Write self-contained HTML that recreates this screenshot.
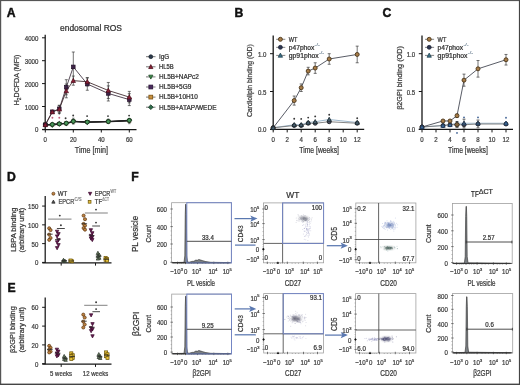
<!DOCTYPE html><html><head><meta charset="utf-8"><style>html,body{margin:0;padding:0;background:#fff;overflow:hidden}svg{display:block;will-change:transform;font-family:"Liberation Sans",sans-serif}</style></head><body>
<svg width="520" height="385" viewBox="0 0 520 385">
<defs><filter id="bl" x="-50%" y="-50%" width="200%" height="200%"><feGaussianBlur stdDeviation="1.1"/></filter><filter id="bl2" x="-50%" y="-50%" width="200%" height="200%"><feGaussianBlur stdDeviation="2.2"/></filter></defs>
<rect width="520" height="385" fill="#fff"/>
<text x="6.7" y="16.6" font-size="12.2" fill="#111" font-weight="bold" stroke="#111" stroke-width="0.45">A</text>
<text x="234.6" y="16.8" font-size="12.2" fill="#111" font-weight="bold" stroke="#111" stroke-width="0.45">B</text>
<text x="382.4" y="16.8" font-size="12.2" fill="#111" font-weight="bold" stroke="#111" stroke-width="0.45">C</text>
<text x="6.9" y="180.6" font-size="12.2" fill="#111" font-weight="bold" stroke="#111" stroke-width="0.45">D</text>
<text x="7.4" y="291.8" font-size="12.2" fill="#111" font-weight="bold" stroke="#111" stroke-width="0.45">E</text>
<text x="131.2" y="180.6" font-size="12.2" fill="#111" font-weight="bold" stroke="#111" stroke-width="0.45">F</text>
<text x="60" y="30.8" font-size="8.3" fill="#333" stroke="#333" stroke-width="0.24" textLength="62" lengthAdjust="spacingAndGlyphs">endosomal ROS</text>
<line x1="45.2" y1="34.8" x2="45.2" y2="130" stroke="#161616" stroke-width="1.25"/>
<line x1="42" y1="129.4" x2="45.2" y2="129.4" stroke="#161616" stroke-width="1"/>
<text x="38.4" y="132.4" font-size="7.3" fill="#3c3c3c" stroke="#3c3c3c" stroke-width="0.24" text-anchor="end" textLength="3.4" lengthAdjust="spacingAndGlyphs">0</text>
<line x1="42" y1="106.5" x2="45.2" y2="106.5" stroke="#161616" stroke-width="1"/>
<text x="38.4" y="109.5" font-size="7.3" fill="#3c3c3c" stroke="#3c3c3c" stroke-width="0.24" text-anchor="end" textLength="13.6" lengthAdjust="spacingAndGlyphs">1000</text>
<line x1="42" y1="83.6" x2="45.2" y2="83.6" stroke="#161616" stroke-width="1"/>
<text x="38.4" y="86.6" font-size="7.3" fill="#3c3c3c" stroke="#3c3c3c" stroke-width="0.24" text-anchor="end" textLength="13.6" lengthAdjust="spacingAndGlyphs">2000</text>
<line x1="42" y1="60.7" x2="45.2" y2="60.7" stroke="#161616" stroke-width="1"/>
<text x="38.4" y="63.7" font-size="7.3" fill="#3c3c3c" stroke="#3c3c3c" stroke-width="0.24" text-anchor="end" textLength="13.6" lengthAdjust="spacingAndGlyphs">3000</text>
<line x1="42" y1="37.8" x2="45.2" y2="37.8" stroke="#161616" stroke-width="1"/>
<text x="38.4" y="40.8" font-size="7.3" fill="#3c3c3c" stroke="#3c3c3c" stroke-width="0.24" text-anchor="end" textLength="13.6" lengthAdjust="spacingAndGlyphs">4000</text>
<line x1="42.3" y1="129.6" x2="136.5" y2="129.6" stroke="#161616" stroke-width="1.25"/>
<line x1="45.3" y1="129.6" x2="45.3" y2="132.5" stroke="#161616" stroke-width="1"/>
<text x="45.3" y="142" font-size="7.3" fill="#3c3c3c" stroke="#3c3c3c" stroke-width="0.24" text-anchor="middle" textLength="3.4" lengthAdjust="spacingAndGlyphs">0</text>
<line x1="73.3" y1="129.6" x2="73.3" y2="132.5" stroke="#161616" stroke-width="1"/>
<text x="73.3" y="142" font-size="7.3" fill="#3c3c3c" stroke="#3c3c3c" stroke-width="0.24" text-anchor="middle" textLength="6.8" lengthAdjust="spacingAndGlyphs">20</text>
<line x1="101.3" y1="129.6" x2="101.3" y2="132.5" stroke="#161616" stroke-width="1"/>
<text x="101.3" y="142" font-size="7.3" fill="#3c3c3c" stroke="#3c3c3c" stroke-width="0.24" text-anchor="middle" textLength="6.8" lengthAdjust="spacingAndGlyphs">40</text>
<line x1="129.3" y1="129.6" x2="129.3" y2="132.5" stroke="#161616" stroke-width="1"/>
<text x="129.3" y="142" font-size="7.3" fill="#3c3c3c" stroke="#3c3c3c" stroke-width="0.24" text-anchor="middle" textLength="6.8" lengthAdjust="spacingAndGlyphs">60</text>
<text x="74.8" y="153.2" font-size="8.3" fill="#3a3a3a" stroke="#3a3a3a" stroke-width="0.24" textLength="33.3" lengthAdjust="spacingAndGlyphs">Time [min]</text>
<text x="19" y="105.3" font-size="7.2" fill="#3a3a3a" stroke="#3a3a3a" stroke-width="0.24" textLength="50.6" lengthAdjust="spacingAndGlyphs" transform="rotate(-90 19 105.3)">H<tspan font-size="5" dy="1.6">2</tspan><tspan dy="-1.6">DCFDA (MFI)</tspan></text>
<polyline points="45.3,124.82 52.3,125.28 59.3,124.13 66.3,123.68 73.3,121.84 87.3,122.3 108.3,121.84 129.3,120.93" fill="none" stroke="#222" stroke-width="1" stroke-linejoin="round"/>
<polyline points="45.3,124.82 52.3,124.59 59.3,123.9 66.3,123.45 73.3,121.39 87.3,122.07 108.3,121.61 129.3,120.7" fill="none" stroke="#222" stroke-width="1" stroke-linejoin="round"/>
<polyline points="45.3,124.82 52.3,124.36 59.3,123.68 66.3,123.22 73.3,121.16 87.3,122.07 108.3,121.39 129.3,120.24" fill="none" stroke="#222" stroke-width="1" stroke-linejoin="round"/>
<polyline points="45.3,124.82 52.3,124.48 59.3,123.9 66.3,123.22 73.3,121.39 87.3,122.07 108.3,121.61 129.3,120.47" fill="none" stroke="#222" stroke-width="1" stroke-linejoin="round"/>
<line x1="73.3" y1="118.18" x2="73.3" y2="124.13" stroke="#444" stroke-width="0.6"/>
<line x1="72" y1="118.18" x2="74.6" y2="118.18" stroke="#444" stroke-width="0.6"/>
<line x1="72" y1="124.13" x2="74.6" y2="124.13" stroke="#444" stroke-width="0.6"/>
<line x1="108.3" y1="119.09" x2="108.3" y2="123.22" stroke="#444" stroke-width="0.6"/>
<line x1="107" y1="119.09" x2="109.6" y2="119.09" stroke="#444" stroke-width="0.6"/>
<line x1="107" y1="123.22" x2="109.6" y2="123.22" stroke="#444" stroke-width="0.6"/>
<line x1="129.3" y1="118.64" x2="129.3" y2="123.68" stroke="#444" stroke-width="0.6"/>
<line x1="128" y1="118.64" x2="130.6" y2="118.64" stroke="#444" stroke-width="0.6"/>
<line x1="128" y1="123.68" x2="130.6" y2="123.68" stroke="#444" stroke-width="0.6"/>
<path d="M45.3 127.01L47.39 123.07L43.21 123.07Z" fill="#3a8a46" stroke="#1f4a27" stroke-width="0.8"/>
<path d="M52.3 127.46L54.39 123.53L50.21 123.53Z" fill="#3a8a46" stroke="#1f4a27" stroke-width="0.8"/>
<path d="M59.3 126.32L61.39 122.39L57.21 122.39Z" fill="#3a8a46" stroke="#1f4a27" stroke-width="0.8"/>
<path d="M66.3 125.86L68.39 121.93L64.21 121.93Z" fill="#3a8a46" stroke="#1f4a27" stroke-width="0.8"/>
<path d="M73.3 124.03L75.39 120.09L71.21 120.09Z" fill="#3a8a46" stroke="#1f4a27" stroke-width="0.8"/>
<path d="M87.3 124.49L89.39 120.55L85.21 120.55Z" fill="#3a8a46" stroke="#1f4a27" stroke-width="0.8"/>
<path d="M108.3 124.03L110.39 120.09L106.21 120.09Z" fill="#3a8a46" stroke="#1f4a27" stroke-width="0.8"/>
<path d="M129.3 123.11L131.39 119.18L127.21 119.18Z" fill="#3a8a46" stroke="#1f4a27" stroke-width="0.8"/>
<rect x="43.8" y="123.32" width="3" height="3" fill="#8a7a40" stroke="#3a3010" stroke-width="0.8"/>
<rect x="50.8" y="123.09" width="3" height="3" fill="#8a7a40" stroke="#3a3010" stroke-width="0.8"/>
<rect x="57.8" y="122.4" width="3" height="3" fill="#8a7a40" stroke="#3a3010" stroke-width="0.8"/>
<rect x="64.8" y="121.95" width="3" height="3" fill="#8a7a40" stroke="#3a3010" stroke-width="0.8"/>
<rect x="71.8" y="119.89" width="3" height="3" fill="#8a7a40" stroke="#3a3010" stroke-width="0.8"/>
<rect x="85.8" y="120.57" width="3" height="3" fill="#8a7a40" stroke="#3a3010" stroke-width="0.8"/>
<rect x="106.8" y="120.11" width="3" height="3" fill="#8a7a40" stroke="#3a3010" stroke-width="0.8"/>
<rect x="127.8" y="119.2" width="3" height="3" fill="#8a7a40" stroke="#3a3010" stroke-width="0.8"/>
<path d="M45.3 122.45L47.67 124.82L45.3 127.2L42.92 124.82Z" fill="#2e6b4a" stroke="#163a26" stroke-width="0.8"/>
<path d="M52.3 121.99L54.67 124.36L52.3 126.74L49.92 124.36Z" fill="#2e6b4a" stroke="#163a26" stroke-width="0.8"/>
<path d="M59.3 121.3L61.67 123.68L59.3 126.05L56.92 123.68Z" fill="#2e6b4a" stroke="#163a26" stroke-width="0.8"/>
<path d="M66.3 120.84L68.67 123.22L66.3 125.59L63.92 123.22Z" fill="#2e6b4a" stroke="#163a26" stroke-width="0.8"/>
<path d="M73.3 118.78L75.67 121.16L73.3 123.53L70.92 121.16Z" fill="#2e6b4a" stroke="#163a26" stroke-width="0.8"/>
<path d="M87.3 119.7L89.67 122.07L87.3 124.45L84.92 122.07Z" fill="#2e6b4a" stroke="#163a26" stroke-width="0.8"/>
<path d="M108.3 119.01L110.67 121.39L108.3 123.76L105.92 121.39Z" fill="#2e6b4a" stroke="#163a26" stroke-width="0.8"/>
<path d="M129.3 117.87L131.68 120.24L129.3 122.62L126.93 120.24Z" fill="#2e6b4a" stroke="#163a26" stroke-width="0.8"/>
<circle cx="45.3" cy="124.82" r="1.9" fill="#4a9a5a" stroke="#16301c" stroke-width="0.8"/>
<circle cx="52.3" cy="124.48" r="1.9" fill="#4a9a5a" stroke="#16301c" stroke-width="0.8"/>
<circle cx="59.3" cy="123.9" r="1.9" fill="#4a9a5a" stroke="#16301c" stroke-width="0.8"/>
<circle cx="66.3" cy="123.22" r="1.9" fill="#4a9a5a" stroke="#16301c" stroke-width="0.8"/>
<circle cx="73.3" cy="121.39" r="1.9" fill="#4a9a5a" stroke="#16301c" stroke-width="0.8"/>
<circle cx="87.3" cy="122.07" r="1.9" fill="#4a9a5a" stroke="#16301c" stroke-width="0.8"/>
<circle cx="108.3" cy="121.61" r="1.9" fill="#4a9a5a" stroke="#16301c" stroke-width="0.8"/>
<circle cx="129.3" cy="120.47" r="1.9" fill="#4a9a5a" stroke="#16301c" stroke-width="0.8"/>
<polyline points="45.3,124.82 52.3,111.77 59.3,108.79 66.3,87.26 73.3,66.88 87.3,84.06 108.3,93.45 129.3,99.63" fill="none" stroke="#3a2a3a" stroke-width="0.85" stroke-linejoin="round"/>
<polyline points="45.3,124.82 52.3,112 59.3,109.25 66.3,90.93 73.3,80.62 87.3,81.77 108.3,90.47 129.3,97.11" fill="none" stroke="#3a2226" stroke-width="0.85" stroke-linejoin="round"/>
<line x1="52.3" y1="110.39" x2="52.3" y2="113.14" stroke="#3a3a3a" stroke-width="0.7"/>
<line x1="50.8" y1="110.39" x2="53.8" y2="110.39" stroke="#3a3a3a" stroke-width="0.7"/>
<line x1="50.8" y1="113.14" x2="53.8" y2="113.14" stroke="#3a3a3a" stroke-width="0.7"/>
<line x1="59.3" y1="105.36" x2="59.3" y2="112.23" stroke="#3a3a3a" stroke-width="0.7"/>
<line x1="57.8" y1="105.36" x2="60.8" y2="105.36" stroke="#3a3a3a" stroke-width="0.7"/>
<line x1="57.8" y1="112.23" x2="60.8" y2="112.23" stroke="#3a3a3a" stroke-width="0.7"/>
<line x1="66.3" y1="79.71" x2="66.3" y2="94.82" stroke="#3a3a3a" stroke-width="0.7"/>
<line x1="64.8" y1="79.71" x2="67.8" y2="79.71" stroke="#3a3a3a" stroke-width="0.7"/>
<line x1="64.8" y1="94.82" x2="67.8" y2="94.82" stroke="#3a3a3a" stroke-width="0.7"/>
<line x1="73.3" y1="52" x2="73.3" y2="81.77" stroke="#3a3a3a" stroke-width="0.7"/>
<line x1="71.8" y1="52" x2="74.8" y2="52" stroke="#3a3a3a" stroke-width="0.7"/>
<line x1="71.8" y1="81.77" x2="74.8" y2="81.77" stroke="#3a3a3a" stroke-width="0.7"/>
<line x1="87.3" y1="77.88" x2="87.3" y2="90.24" stroke="#3a3a3a" stroke-width="0.7"/>
<line x1="85.8" y1="77.88" x2="88.8" y2="77.88" stroke="#3a3a3a" stroke-width="0.7"/>
<line x1="85.8" y1="90.24" x2="88.8" y2="90.24" stroke="#3a3a3a" stroke-width="0.7"/>
<line x1="108.3" y1="85.89" x2="108.3" y2="101" stroke="#3a3a3a" stroke-width="0.7"/>
<line x1="106.8" y1="85.89" x2="109.8" y2="85.89" stroke="#3a3a3a" stroke-width="0.7"/>
<line x1="106.8" y1="101" x2="109.8" y2="101" stroke="#3a3a3a" stroke-width="0.7"/>
<line x1="129.3" y1="93.68" x2="129.3" y2="105.58" stroke="#3a3a3a" stroke-width="0.7"/>
<line x1="127.8" y1="93.68" x2="130.8" y2="93.68" stroke="#3a3a3a" stroke-width="0.7"/>
<line x1="127.8" y1="105.58" x2="130.8" y2="105.58" stroke="#3a3a3a" stroke-width="0.7"/>
<line x1="52.3" y1="110.62" x2="52.3" y2="113.37" stroke="#3a3a3a" stroke-width="0.7"/>
<line x1="50.8" y1="110.62" x2="53.8" y2="110.62" stroke="#3a3a3a" stroke-width="0.7"/>
<line x1="50.8" y1="113.37" x2="53.8" y2="113.37" stroke="#3a3a3a" stroke-width="0.7"/>
<line x1="59.3" y1="105.36" x2="59.3" y2="113.14" stroke="#3a3a3a" stroke-width="0.7"/>
<line x1="57.8" y1="105.36" x2="60.8" y2="105.36" stroke="#3a3a3a" stroke-width="0.7"/>
<line x1="57.8" y1="113.14" x2="60.8" y2="113.14" stroke="#3a3a3a" stroke-width="0.7"/>
<line x1="66.3" y1="84.06" x2="66.3" y2="97.8" stroke="#3a3a3a" stroke-width="0.7"/>
<line x1="64.8" y1="84.06" x2="67.8" y2="84.06" stroke="#3a3a3a" stroke-width="0.7"/>
<line x1="64.8" y1="97.8" x2="67.8" y2="97.8" stroke="#3a3a3a" stroke-width="0.7"/>
<line x1="73.3" y1="76.04" x2="73.3" y2="85.2" stroke="#3a3a3a" stroke-width="0.7"/>
<line x1="71.8" y1="76.04" x2="74.8" y2="76.04" stroke="#3a3a3a" stroke-width="0.7"/>
<line x1="71.8" y1="85.2" x2="74.8" y2="85.2" stroke="#3a3a3a" stroke-width="0.7"/>
<line x1="87.3" y1="77.65" x2="87.3" y2="85.89" stroke="#3a3a3a" stroke-width="0.7"/>
<line x1="85.8" y1="77.65" x2="88.8" y2="77.65" stroke="#3a3a3a" stroke-width="0.7"/>
<line x1="85.8" y1="85.89" x2="88.8" y2="85.89" stroke="#3a3a3a" stroke-width="0.7"/>
<line x1="108.3" y1="82.46" x2="108.3" y2="98.49" stroke="#3a3a3a" stroke-width="0.7"/>
<line x1="106.8" y1="82.46" x2="109.8" y2="82.46" stroke="#3a3a3a" stroke-width="0.7"/>
<line x1="106.8" y1="98.49" x2="109.8" y2="98.49" stroke="#3a3a3a" stroke-width="0.7"/>
<line x1="129.3" y1="91.39" x2="129.3" y2="102.84" stroke="#3a3a3a" stroke-width="0.7"/>
<line x1="127.8" y1="91.39" x2="130.8" y2="91.39" stroke="#3a3a3a" stroke-width="0.7"/>
<line x1="127.8" y1="102.84" x2="130.8" y2="102.84" stroke="#3a3a3a" stroke-width="0.7"/>
<rect x="43.5" y="123.02" width="3.6" height="3.6" fill="#3d2448" stroke="#241028" stroke-width="0.7"/>
<rect x="50.5" y="109.97" width="3.6" height="3.6" fill="#3d2448" stroke="#241028" stroke-width="0.7"/>
<rect x="57.5" y="106.99" width="3.6" height="3.6" fill="#3d2448" stroke="#241028" stroke-width="0.7"/>
<rect x="64.5" y="85.46" width="3.6" height="3.6" fill="#3d2448" stroke="#241028" stroke-width="0.7"/>
<rect x="71.5" y="65.08" width="3.6" height="3.6" fill="#3d2448" stroke="#241028" stroke-width="0.7"/>
<rect x="85.5" y="82.26" width="3.6" height="3.6" fill="#3d2448" stroke="#241028" stroke-width="0.7"/>
<rect x="106.5" y="91.65" width="3.6" height="3.6" fill="#3d2448" stroke="#241028" stroke-width="0.7"/>
<rect x="127.5" y="97.83" width="3.6" height="3.6" fill="#3d2448" stroke="#241028" stroke-width="0.7"/>
<path d="M45.3 122.52L47.5 126.66L43.1 126.66Z" fill="#8a1f35" stroke="#4a0f1c" stroke-width="0.7"/>
<path d="M52.3 109.7L54.5 113.84L50.1 113.84Z" fill="#8a1f35" stroke="#4a0f1c" stroke-width="0.7"/>
<path d="M59.3 106.95L61.5 111.09L57.1 111.09Z" fill="#8a1f35" stroke="#4a0f1c" stroke-width="0.7"/>
<path d="M66.3 88.63L68.5 92.77L64.1 92.77Z" fill="#8a1f35" stroke="#4a0f1c" stroke-width="0.7"/>
<path d="M73.3 78.32L75.5 82.46L71.1 82.46Z" fill="#8a1f35" stroke="#4a0f1c" stroke-width="0.7"/>
<path d="M87.3 79.47L89.5 83.61L85.1 83.61Z" fill="#8a1f35" stroke="#4a0f1c" stroke-width="0.7"/>
<path d="M108.3 88.17L110.5 92.31L106.1 92.31Z" fill="#8a1f35" stroke="#4a0f1c" stroke-width="0.7"/>
<path d="M129.3 94.81L131.5 98.95L127.1 98.95Z" fill="#8a1f35" stroke="#4a0f1c" stroke-width="0.7"/>
<circle cx="52.4" cy="117.8" r="0.95" fill="#c06080"/>
<circle cx="59.3" cy="113.6" r="0.95" fill="#383838"/>
<circle cx="59.3" cy="117.8" r="0.95" fill="#c06080"/>
<circle cx="65.6" cy="118.2" r="0.95" fill="#383838"/>
<circle cx="73.2" cy="115.5" r="0.95" fill="#383838"/>
<circle cx="87.1" cy="116.1" r="0.95" fill="#383838"/>
<circle cx="108" cy="116.1" r="0.95" fill="#383838"/>
<circle cx="129.1" cy="115.6" r="0.95" fill="#383838"/>
<line x1="146" y1="56.7" x2="155.5" y2="56.7" stroke="#666" stroke-width="0.9"/>
<circle cx="150.8" cy="56.7" r="1.9" fill="#2c3a4c" stroke="#1a2430" stroke-width="0.8"/>
<text x="159" y="59" font-size="6.4" fill="#333" stroke="#333" stroke-width="0.24" textLength="10.1" lengthAdjust="spacingAndGlyphs">IgG</text>
<line x1="146" y1="66.8" x2="155.5" y2="66.8" stroke="#666" stroke-width="0.9"/>
<path d="M150.8 64.61L152.89 68.55L148.71 68.55Z" fill="#8a1f35" stroke="#4a0f1c" stroke-width="0.8"/>
<text x="159" y="69.1" font-size="6.4" fill="#333" stroke="#333" stroke-width="0.24" textLength="14.7" lengthAdjust="spacingAndGlyphs">HL5B</text>
<line x1="146" y1="76.9" x2="155.5" y2="76.9" stroke="#666" stroke-width="0.9"/>
<path d="M150.8 79.09L152.89 75.15L148.71 75.15Z" fill="#3a8a46" stroke="#1f4a27" stroke-width="0.8"/>
<text x="159" y="79.2" font-size="6.4" fill="#333" stroke="#333" stroke-width="0.24" textLength="39.8" lengthAdjust="spacingAndGlyphs">HL5B+NAPc2</text>
<line x1="146" y1="87" x2="155.5" y2="87" stroke="#666" stroke-width="0.9"/>
<rect x="148.9" y="85.1" width="3.8" height="3.8" fill="#4a2a5e" stroke="#2a1438" stroke-width="0.8"/>
<text x="159" y="89.3" font-size="6.4" fill="#333" stroke="#333" stroke-width="0.24" textLength="32.3" lengthAdjust="spacingAndGlyphs">HL5B+5G9</text>
<line x1="146" y1="97.1" x2="155.5" y2="97.1" stroke="#666" stroke-width="0.9"/>
<rect x="148.9" y="95.2" width="3.8" height="3.8" fill="#c89040" stroke="#7a5010" stroke-width="0.8"/>
<text x="159" y="99.4" font-size="6.4" fill="#333" stroke="#333" stroke-width="0.24" textLength="38.8" lengthAdjust="spacingAndGlyphs">HL5B+10H10</text>
<line x1="146" y1="107.2" x2="155.5" y2="107.2" stroke="#666" stroke-width="0.9"/>
<path d="M150.8 104.83L153.18 107.2L150.8 109.58L148.43 107.2Z" fill="#2e6b4a" stroke="#163a26" stroke-width="0.8"/>
<text x="159" y="109.5" font-size="6.4" fill="#333" stroke="#333" stroke-width="0.24" textLength="57.5" lengthAdjust="spacingAndGlyphs">HL5B+ATAP/WEDE</text>
<line x1="273.2" y1="35.5" x2="273.2" y2="130" stroke="#161616" stroke-width="1.3"/>
<line x1="270" y1="129.3" x2="273.2" y2="129.3" stroke="#161616" stroke-width="1"/>
<text x="266.4" y="132.3" font-size="7.3" fill="#3c3c3c" stroke="#3c3c3c" stroke-width="0.24" text-anchor="end" textLength="8.5" lengthAdjust="spacingAndGlyphs">0.0</text>
<line x1="270" y1="91.5" x2="273.2" y2="91.5" stroke="#161616" stroke-width="1"/>
<text x="266.4" y="94.5" font-size="7.3" fill="#3c3c3c" stroke="#3c3c3c" stroke-width="0.24" text-anchor="end" textLength="8.5" lengthAdjust="spacingAndGlyphs">0.5</text>
<line x1="270" y1="53.7" x2="273.2" y2="53.7" stroke="#161616" stroke-width="1"/>
<text x="266.4" y="56.7" font-size="7.3" fill="#3c3c3c" stroke="#3c3c3c" stroke-width="0.24" text-anchor="end" textLength="8.5" lengthAdjust="spacingAndGlyphs">1.0</text>
<line x1="270" y1="129.4" x2="364.2" y2="129.4" stroke="#161616" stroke-width="1.3"/>
<line x1="273.2" y1="129.4" x2="273.2" y2="132.4" stroke="#161616" stroke-width="1"/>
<text x="273.2" y="141.7" font-size="7.3" fill="#3c3c3c" stroke="#3c3c3c" stroke-width="0.24" text-anchor="middle" textLength="3.4" lengthAdjust="spacingAndGlyphs">0</text>
<line x1="287.2" y1="129.4" x2="287.2" y2="132.4" stroke="#161616" stroke-width="1"/>
<text x="287.2" y="141.7" font-size="7.3" fill="#3c3c3c" stroke="#3c3c3c" stroke-width="0.24" text-anchor="middle" textLength="3.4" lengthAdjust="spacingAndGlyphs">2</text>
<line x1="301.2" y1="129.4" x2="301.2" y2="132.4" stroke="#161616" stroke-width="1"/>
<text x="301.2" y="141.7" font-size="7.3" fill="#3c3c3c" stroke="#3c3c3c" stroke-width="0.24" text-anchor="middle" textLength="3.4" lengthAdjust="spacingAndGlyphs">4</text>
<line x1="315.2" y1="129.4" x2="315.2" y2="132.4" stroke="#161616" stroke-width="1"/>
<text x="315.2" y="141.7" font-size="7.3" fill="#3c3c3c" stroke="#3c3c3c" stroke-width="0.24" text-anchor="middle" textLength="3.4" lengthAdjust="spacingAndGlyphs">6</text>
<line x1="329.2" y1="129.4" x2="329.2" y2="132.4" stroke="#161616" stroke-width="1"/>
<text x="329.2" y="141.7" font-size="7.3" fill="#3c3c3c" stroke="#3c3c3c" stroke-width="0.24" text-anchor="middle" textLength="3.4" lengthAdjust="spacingAndGlyphs">8</text>
<line x1="343.2" y1="129.4" x2="343.2" y2="132.4" stroke="#161616" stroke-width="1"/>
<text x="343.2" y="141.7" font-size="7.3" fill="#3c3c3c" stroke="#3c3c3c" stroke-width="0.24" text-anchor="middle" textLength="6.8" lengthAdjust="spacingAndGlyphs">10</text>
<line x1="357.2" y1="129.4" x2="357.2" y2="132.4" stroke="#161616" stroke-width="1"/>
<text x="357.2" y="141.7" font-size="7.3" fill="#3c3c3c" stroke="#3c3c3c" stroke-width="0.24" text-anchor="middle" textLength="6.8" lengthAdjust="spacingAndGlyphs">12</text>
<text x="299.3" y="153" font-size="8.3" fill="#3a3a3a" stroke="#3a3a3a" stroke-width="0.24" textLength="39.7" lengthAdjust="spacingAndGlyphs">Time [weeks]</text>
<text x="252.2" y="117.1" font-size="7.2" fill="#3a3a3a" stroke="#3a3a3a" stroke-width="0.24" textLength="72.9" lengthAdjust="spacingAndGlyphs" transform="rotate(-90 252.2 117.1)">Cardiolipin binding (OD)</text>
<polyline points="273.2,127.79 294.2,124.76 301.2,124.76 308.2,122.5 315.2,121.74 329.2,119.47 357.2,122.5" fill="none" stroke="#9fb8cc" stroke-width="1.1" stroke-linejoin="round"/>
<polyline points="273.2,127.79 294.2,125.52 301.2,125.52 308.2,123.25 315.2,123.25 329.2,121.74 357.2,123.25" fill="none" stroke="#777" stroke-width="0.9" stroke-linejoin="round"/>
<circle cx="273.2" cy="127.79" r="2" fill="#a67c48" stroke="#4a3418" stroke-width="0.9"/>
<polyline points="273.2,127.79 294.2,100.57 301.2,87.72 308.2,71.09 315.2,68.06 329.2,58.99 357.2,54.46" fill="none" stroke="#3b3f4a" stroke-width="0.85" stroke-linejoin="round"/>
<circle cx="273.2" cy="127.79" r="2" fill="#4c5060" stroke="#1a1c24" stroke-width="0.85"/>
<circle cx="294.2" cy="125.52" r="2" fill="#4c5060" stroke="#1a1c24" stroke-width="0.85"/>
<circle cx="301.2" cy="125.52" r="2" fill="#4c5060" stroke="#1a1c24" stroke-width="0.85"/>
<circle cx="308.2" cy="123.25" r="2" fill="#4c5060" stroke="#1a1c24" stroke-width="0.85"/>
<circle cx="315.2" cy="123.25" r="2" fill="#4c5060" stroke="#1a1c24" stroke-width="0.85"/>
<circle cx="329.2" cy="121.74" r="2" fill="#4c5060" stroke="#1a1c24" stroke-width="0.85"/>
<circle cx="357.2" cy="123.25" r="2" fill="#4c5060" stroke="#1a1c24" stroke-width="0.85"/>
<path d="M273.2 125.55L275.34 129.58L271.06 129.58Z" fill="#4a6070" stroke="#1a2a30" stroke-width="0.8"/>
<path d="M294.2 122.52L296.34 126.56L292.06 126.56Z" fill="#4a6070" stroke="#1a2a30" stroke-width="0.8"/>
<path d="M301.2 122.52L303.34 126.56L299.06 126.56Z" fill="#4a6070" stroke="#1a2a30" stroke-width="0.8"/>
<path d="M308.2 120.25L310.34 124.29L306.06 124.29Z" fill="#4a6070" stroke="#1a2a30" stroke-width="0.8"/>
<path d="M315.2 119.5L317.34 123.53L313.06 123.53Z" fill="#4a6070" stroke="#1a2a30" stroke-width="0.8"/>
<path d="M329.2 117.23L331.34 121.27L327.06 121.27Z" fill="#4a6070" stroke="#1a2a30" stroke-width="0.8"/>
<path d="M357.2 120.25L359.34 124.29L355.06 124.29Z" fill="#4a6070" stroke="#1a2a30" stroke-width="0.8"/>
<line x1="294.2" y1="96.04" x2="294.2" y2="105.11" stroke="#3a3a3a" stroke-width="0.7"/>
<line x1="292.7" y1="96.04" x2="295.7" y2="96.04" stroke="#3a3a3a" stroke-width="0.7"/>
<line x1="292.7" y1="105.11" x2="295.7" y2="105.11" stroke="#3a3a3a" stroke-width="0.7"/>
<line x1="301.2" y1="83.94" x2="301.2" y2="91.5" stroke="#3a3a3a" stroke-width="0.7"/>
<line x1="299.7" y1="83.94" x2="302.7" y2="83.94" stroke="#3a3a3a" stroke-width="0.7"/>
<line x1="299.7" y1="91.5" x2="302.7" y2="91.5" stroke="#3a3a3a" stroke-width="0.7"/>
<line x1="308.2" y1="67.31" x2="308.2" y2="74.87" stroke="#3a3a3a" stroke-width="0.7"/>
<line x1="306.7" y1="67.31" x2="309.7" y2="67.31" stroke="#3a3a3a" stroke-width="0.7"/>
<line x1="306.7" y1="74.87" x2="309.7" y2="74.87" stroke="#3a3a3a" stroke-width="0.7"/>
<line x1="315.2" y1="62.77" x2="315.2" y2="73.36" stroke="#3a3a3a" stroke-width="0.7"/>
<line x1="313.7" y1="62.77" x2="316.7" y2="62.77" stroke="#3a3a3a" stroke-width="0.7"/>
<line x1="313.7" y1="73.36" x2="316.7" y2="73.36" stroke="#3a3a3a" stroke-width="0.7"/>
<line x1="329.2" y1="53.7" x2="329.2" y2="64.28" stroke="#3a3a3a" stroke-width="0.7"/>
<line x1="327.7" y1="53.7" x2="330.7" y2="53.7" stroke="#3a3a3a" stroke-width="0.7"/>
<line x1="327.7" y1="64.28" x2="330.7" y2="64.28" stroke="#3a3a3a" stroke-width="0.7"/>
<line x1="357.2" y1="46.14" x2="357.2" y2="62.77" stroke="#3a3a3a" stroke-width="0.7"/>
<line x1="355.7" y1="46.14" x2="358.7" y2="46.14" stroke="#3a3a3a" stroke-width="0.7"/>
<line x1="355.7" y1="62.77" x2="358.7" y2="62.77" stroke="#3a3a3a" stroke-width="0.7"/>
<circle cx="294.2" cy="100.57" r="2" fill="#a67c48" stroke="#4a3418" stroke-width="0.9"/>
<circle cx="301.2" cy="87.72" r="2" fill="#a67c48" stroke="#4a3418" stroke-width="0.9"/>
<circle cx="308.2" cy="71.09" r="2" fill="#a67c48" stroke="#4a3418" stroke-width="0.9"/>
<circle cx="315.2" cy="68.06" r="2" fill="#a67c48" stroke="#4a3418" stroke-width="0.9"/>
<circle cx="329.2" cy="58.99" r="2" fill="#a67c48" stroke="#4a3418" stroke-width="0.9"/>
<circle cx="357.2" cy="54.46" r="2" fill="#a67c48" stroke="#4a3418" stroke-width="0.9"/>
<circle cx="294.2" cy="118.7" r="0.95" fill="#383838"/>
<circle cx="301.2" cy="118.9" r="0.95" fill="#383838"/>
<circle cx="308.2" cy="117.6" r="0.95" fill="#383838"/>
<circle cx="315.2" cy="116.4" r="0.95" fill="#383838"/>
<circle cx="329.2" cy="114.8" r="0.95" fill="#383838"/>
<circle cx="357.2" cy="118.3" r="0.95" fill="#383838"/>
<line x1="276.2" y1="39.3" x2="285.3" y2="39.3" stroke="#777" stroke-width="0.9"/>
<circle cx="280.4" cy="39.3" r="2" fill="#a67c48" stroke="#4a3418" stroke-width="0.9"/>
<text x="288.8" y="42" font-size="6.4" fill="#333" stroke="#333" stroke-width="0.24" textLength="8.7" lengthAdjust="spacingAndGlyphs">WT</text>
<line x1="276.2" y1="47.35" x2="285.3" y2="47.35" stroke="#777" stroke-width="0.9"/>
<circle cx="280.4" cy="47.35" r="2" fill="#2c3550" stroke="#1a2030" stroke-width="0.7"/>
<text x="288.8" y="50.05" font-size="6.4" fill="#333" stroke="#333" stroke-width="0.24" textLength="25.5" lengthAdjust="spacingAndGlyphs">p47phox</text>
<text x="314.6" y="46.35" font-size="4.4" fill="#8a9aa8" stroke="#8a9aa8" stroke-width="0.24" textLength="5.2" lengthAdjust="spacingAndGlyphs">-/-</text>
<line x1="276.2" y1="55.4" x2="285.3" y2="55.4" stroke="#777" stroke-width="0.9"/>
<path d="M280.4 53.1L282.6 57.24L278.2 57.24Z" fill="#3a6f86" stroke="#1e3e4a" stroke-width="0.7"/>
<text x="288.8" y="58.1" font-size="6.4" fill="#333" stroke="#333" stroke-width="0.24" textLength="29.9" lengthAdjust="spacingAndGlyphs">gp91phox</text>
<text x="319" y="54.4" font-size="4.4" fill="#8a9aa8" stroke="#8a9aa8" stroke-width="0.24" textLength="5.2" lengthAdjust="spacingAndGlyphs">-/-</text>
<line x1="422" y1="35.5" x2="422" y2="130" stroke="#161616" stroke-width="1.3"/>
<line x1="418.8" y1="129.3" x2="422" y2="129.3" stroke="#161616" stroke-width="1"/>
<text x="415.2" y="132.3" font-size="7.3" fill="#3c3c3c" stroke="#3c3c3c" stroke-width="0.24" text-anchor="end" textLength="8.5" lengthAdjust="spacingAndGlyphs">0.0</text>
<line x1="418.8" y1="91.5" x2="422" y2="91.5" stroke="#161616" stroke-width="1"/>
<text x="415.2" y="94.5" font-size="7.3" fill="#3c3c3c" stroke="#3c3c3c" stroke-width="0.24" text-anchor="end" textLength="8.5" lengthAdjust="spacingAndGlyphs">0.5</text>
<line x1="418.8" y1="53.7" x2="422" y2="53.7" stroke="#161616" stroke-width="1"/>
<text x="415.2" y="56.7" font-size="7.3" fill="#3c3c3c" stroke="#3c3c3c" stroke-width="0.24" text-anchor="end" textLength="8.5" lengthAdjust="spacingAndGlyphs">1.0</text>
<line x1="418.8" y1="129.4" x2="513" y2="129.4" stroke="#161616" stroke-width="1.3"/>
<line x1="422" y1="129.4" x2="422" y2="132.4" stroke="#161616" stroke-width="1"/>
<text x="422" y="141.7" font-size="7.3" fill="#3c3c3c" stroke="#3c3c3c" stroke-width="0.24" text-anchor="middle" textLength="3.4" lengthAdjust="spacingAndGlyphs">0</text>
<line x1="436" y1="129.4" x2="436" y2="132.4" stroke="#161616" stroke-width="1"/>
<text x="436" y="141.7" font-size="7.3" fill="#3c3c3c" stroke="#3c3c3c" stroke-width="0.24" text-anchor="middle" textLength="3.4" lengthAdjust="spacingAndGlyphs">2</text>
<line x1="450" y1="129.4" x2="450" y2="132.4" stroke="#161616" stroke-width="1"/>
<text x="450" y="141.7" font-size="7.3" fill="#3c3c3c" stroke="#3c3c3c" stroke-width="0.24" text-anchor="middle" textLength="3.4" lengthAdjust="spacingAndGlyphs">4</text>
<line x1="464" y1="129.4" x2="464" y2="132.4" stroke="#161616" stroke-width="1"/>
<text x="464" y="141.7" font-size="7.3" fill="#3c3c3c" stroke="#3c3c3c" stroke-width="0.24" text-anchor="middle" textLength="3.4" lengthAdjust="spacingAndGlyphs">6</text>
<line x1="478" y1="129.4" x2="478" y2="132.4" stroke="#161616" stroke-width="1"/>
<text x="478" y="141.7" font-size="7.3" fill="#3c3c3c" stroke="#3c3c3c" stroke-width="0.24" text-anchor="middle" textLength="3.4" lengthAdjust="spacingAndGlyphs">8</text>
<line x1="492" y1="129.4" x2="492" y2="132.4" stroke="#161616" stroke-width="1"/>
<text x="492" y="141.7" font-size="7.3" fill="#3c3c3c" stroke="#3c3c3c" stroke-width="0.24" text-anchor="middle" textLength="6.8" lengthAdjust="spacingAndGlyphs">10</text>
<line x1="506" y1="129.4" x2="506" y2="132.4" stroke="#161616" stroke-width="1"/>
<text x="506" y="141.7" font-size="7.3" fill="#3c3c3c" stroke="#3c3c3c" stroke-width="0.24" text-anchor="middle" textLength="6.8" lengthAdjust="spacingAndGlyphs">12</text>
<text x="448.1" y="153" font-size="8.3" fill="#3a3a3a" stroke="#3a3a3a" stroke-width="0.24" textLength="39.7" lengthAdjust="spacingAndGlyphs">Time [weeks]</text>
<text x="401.6" y="109.8" font-size="7.2" fill="#3a3a3a" stroke="#3a3a3a" stroke-width="0.24" textLength="63.6" lengthAdjust="spacingAndGlyphs" transform="rotate(-90 401.6 109.8)">β2GPI binding (OD)</text>
<polyline points="422,127.03 443,125.52 450,124.76 457,123.25 464,123.25 478,123.25 506,123.25" fill="none" stroke="#9fb8cc" stroke-width="1.1" stroke-linejoin="round"/>
<polyline points="422,127.03 443,125.52 450,124.76 457,124.76 464,124.76 478,124.01 506,124.01" fill="none" stroke="#777" stroke-width="0.9" stroke-linejoin="round"/>
<circle cx="422" cy="127.03" r="2" fill="#a67c48" stroke="#4a3418" stroke-width="0.9"/>
<polyline points="422,127.03 443,120.98 450,120.98 457,115.69 464,80.16 478,68.82 506,59.75" fill="none" stroke="#3b3f4a" stroke-width="0.85" stroke-linejoin="round"/>
<circle cx="422" cy="127.03" r="2" fill="#4c5060" stroke="#1a1c24" stroke-width="0.85"/>
<circle cx="443" cy="125.52" r="2" fill="#4c5060" stroke="#1a1c24" stroke-width="0.85"/>
<circle cx="450" cy="124.76" r="2" fill="#4c5060" stroke="#1a1c24" stroke-width="0.85"/>
<circle cx="457" cy="124.76" r="2" fill="#4c5060" stroke="#1a1c24" stroke-width="0.85"/>
<circle cx="464" cy="124.76" r="2" fill="#4c5060" stroke="#1a1c24" stroke-width="0.85"/>
<circle cx="478" cy="124.01" r="2" fill="#4c5060" stroke="#1a1c24" stroke-width="0.85"/>
<circle cx="506" cy="124.01" r="2" fill="#4c5060" stroke="#1a1c24" stroke-width="0.85"/>
<path d="M422 124.79L424.14 128.83L419.86 128.83Z" fill="#3d6d9a" stroke="#1a3050" stroke-width="0.8"/>
<path d="M443 123.28L445.14 127.31L440.86 127.31Z" fill="#3d6d9a" stroke="#1a3050" stroke-width="0.8"/>
<path d="M450 122.52L452.14 126.56L447.86 126.56Z" fill="#3d6d9a" stroke="#1a3050" stroke-width="0.8"/>
<path d="M457 121.01L459.14 125.05L454.86 125.05Z" fill="#3d6d9a" stroke="#1a3050" stroke-width="0.8"/>
<path d="M464 121.01L466.14 125.05L461.86 125.05Z" fill="#3d6d9a" stroke="#1a3050" stroke-width="0.8"/>
<path d="M478 121.01L480.14 125.05L475.86 125.05Z" fill="#3d6d9a" stroke="#1a3050" stroke-width="0.8"/>
<path d="M506 121.01L508.14 125.05L503.86 125.05Z" fill="#3d6d9a" stroke="#1a3050" stroke-width="0.8"/>
<line x1="457" y1="114.18" x2="457" y2="117.2" stroke="#3a3a3a" stroke-width="0.7"/>
<line x1="455.5" y1="114.18" x2="458.5" y2="114.18" stroke="#3a3a3a" stroke-width="0.7"/>
<line x1="455.5" y1="117.2" x2="458.5" y2="117.2" stroke="#3a3a3a" stroke-width="0.7"/>
<line x1="464" y1="74.11" x2="464" y2="86.21" stroke="#3a3a3a" stroke-width="0.7"/>
<line x1="462.5" y1="74.11" x2="465.5" y2="74.11" stroke="#3a3a3a" stroke-width="0.7"/>
<line x1="462.5" y1="86.21" x2="465.5" y2="86.21" stroke="#3a3a3a" stroke-width="0.7"/>
<line x1="478" y1="60.5" x2="478" y2="77.14" stroke="#3a3a3a" stroke-width="0.7"/>
<line x1="476.5" y1="60.5" x2="479.5" y2="60.5" stroke="#3a3a3a" stroke-width="0.7"/>
<line x1="476.5" y1="77.14" x2="479.5" y2="77.14" stroke="#3a3a3a" stroke-width="0.7"/>
<line x1="506" y1="54.46" x2="506" y2="65.04" stroke="#3a3a3a" stroke-width="0.7"/>
<line x1="504.5" y1="54.46" x2="507.5" y2="54.46" stroke="#3a3a3a" stroke-width="0.7"/>
<line x1="504.5" y1="65.04" x2="507.5" y2="65.04" stroke="#3a3a3a" stroke-width="0.7"/>
<circle cx="443" cy="120.98" r="2" fill="#a67c48" stroke="#4a3418" stroke-width="0.9"/>
<circle cx="450" cy="120.98" r="2" fill="#a67c48" stroke="#4a3418" stroke-width="0.9"/>
<circle cx="457" cy="115.69" r="2" fill="#a67c48" stroke="#4a3418" stroke-width="0.9"/>
<circle cx="464" cy="80.16" r="2" fill="#a67c48" stroke="#4a3418" stroke-width="0.9"/>
<circle cx="478" cy="68.82" r="2" fill="#a67c48" stroke="#4a3418" stroke-width="0.9"/>
<circle cx="506" cy="59.75" r="2" fill="#a67c48" stroke="#4a3418" stroke-width="0.9"/>
<circle cx="464" cy="117.4" r="0.95" fill="#4a6a9a"/>
<circle cx="478" cy="117.4" r="0.95" fill="#4a6a9a"/>
<circle cx="506" cy="117.8" r="0.95" fill="#4a6a9a"/>
<circle cx="457" cy="132.9" r="0.95" fill="#4a6a9a"/>
<circle cx="457" cy="124.6" r="2" fill="#a67c48" stroke="#4a3418" stroke-width="0.9"/>
<line x1="457" y1="121.5" x2="457" y2="127.5" stroke="#3a3a3a" stroke-width="0.7"/>
<line x1="455.5" y1="121.5" x2="458.5" y2="121.5" stroke="#3a3a3a" stroke-width="0.7"/>
<line x1="455.5" y1="127.5" x2="458.5" y2="127.5" stroke="#3a3a3a" stroke-width="0.7"/>
<line x1="464" y1="119.2" x2="464" y2="128" stroke="#3a3a3a" stroke-width="0.7"/>
<line x1="462.5" y1="119.2" x2="465.5" y2="119.2" stroke="#3a3a3a" stroke-width="0.7"/>
<line x1="462.5" y1="128" x2="465.5" y2="128" stroke="#3a3a3a" stroke-width="0.7"/>
<line x1="478" y1="120" x2="478" y2="127.8" stroke="#3a3a3a" stroke-width="0.7"/>
<line x1="476.5" y1="120" x2="479.5" y2="120" stroke="#3a3a3a" stroke-width="0.7"/>
<line x1="476.5" y1="127.8" x2="479.5" y2="127.8" stroke="#3a3a3a" stroke-width="0.7"/>
<line x1="425" y1="39.3" x2="434.1" y2="39.3" stroke="#777" stroke-width="0.9"/>
<circle cx="429.2" cy="39.3" r="2" fill="#a67c48" stroke="#4a3418" stroke-width="0.9"/>
<text x="437.6" y="42" font-size="6.4" fill="#333" stroke="#333" stroke-width="0.24" textLength="8.7" lengthAdjust="spacingAndGlyphs">WT</text>
<line x1="425" y1="47.35" x2="434.1" y2="47.35" stroke="#777" stroke-width="0.9"/>
<circle cx="429.2" cy="47.35" r="2" fill="#2c3550" stroke="#1a2030" stroke-width="0.7"/>
<text x="437.6" y="50.05" font-size="6.4" fill="#333" stroke="#333" stroke-width="0.24" textLength="25.5" lengthAdjust="spacingAndGlyphs">p47phox</text>
<text x="463.4" y="46.35" font-size="4.4" fill="#8a9aa8" stroke="#8a9aa8" stroke-width="0.24" textLength="5.2" lengthAdjust="spacingAndGlyphs">-/-</text>
<line x1="425" y1="55.4" x2="434.1" y2="55.4" stroke="#777" stroke-width="0.9"/>
<path d="M429.2 53.1L431.4 57.24L427 57.24Z" fill="#3a6f86" stroke="#1e3e4a" stroke-width="0.7"/>
<text x="437.6" y="58.1" font-size="6.4" fill="#333" stroke="#333" stroke-width="0.24" textLength="29.9" lengthAdjust="spacingAndGlyphs">gp91phox</text>
<text x="467.8" y="54.4" font-size="4.4" fill="#8a9aa8" stroke="#8a9aa8" stroke-width="0.24" textLength="5.2" lengthAdjust="spacingAndGlyphs">-/-</text>
<line x1="45.2" y1="196" x2="45.2" y2="263" stroke="#161616" stroke-width="1.25"/>
<line x1="42.1" y1="262.4" x2="45.2" y2="262.4" stroke="#161616" stroke-width="1"/>
<text x="38.3" y="265.4" font-size="7.3" fill="#3c3c3c" stroke="#3c3c3c" stroke-width="0.24" text-anchor="end" textLength="3.4" lengthAdjust="spacingAndGlyphs">0</text>
<line x1="42.1" y1="243.62" x2="45.2" y2="243.62" stroke="#161616" stroke-width="1"/>
<text x="38.3" y="246.62" font-size="7.3" fill="#3c3c3c" stroke="#3c3c3c" stroke-width="0.24" text-anchor="end" textLength="6.8" lengthAdjust="spacingAndGlyphs">50</text>
<line x1="42.1" y1="224.85" x2="45.2" y2="224.85" stroke="#161616" stroke-width="1"/>
<text x="38.3" y="227.85" font-size="7.3" fill="#3c3c3c" stroke="#3c3c3c" stroke-width="0.24" text-anchor="end" textLength="10.2" lengthAdjust="spacingAndGlyphs">100</text>
<line x1="42.1" y1="206.07" x2="45.2" y2="206.07" stroke="#161616" stroke-width="1"/>
<text x="38.3" y="209.07" font-size="7.3" fill="#3c3c3c" stroke="#3c3c3c" stroke-width="0.24" text-anchor="end" textLength="10.2" lengthAdjust="spacingAndGlyphs">150</text>
<line x1="42.3" y1="262.9" x2="111.5" y2="262.9" stroke="#161616" stroke-width="1.25"/>
<line x1="61.2" y1="262.9" x2="61.2" y2="265.6" stroke="#161616" stroke-width="1"/>
<line x1="95.5" y1="262.9" x2="95.5" y2="265.6" stroke="#161616" stroke-width="1"/>
<circle cx="49.2" cy="228.23" r="1.55" fill="#c08442" stroke="#5a3410" stroke-width="0.7"/>
<circle cx="50.6" cy="230.11" r="1.55" fill="#c08442" stroke="#5a3410" stroke-width="0.7"/>
<circle cx="49.2" cy="234.61" r="1.55" fill="#c08442" stroke="#5a3410" stroke-width="0.7"/>
<circle cx="50.6" cy="237.99" r="1.55" fill="#c08442" stroke="#5a3410" stroke-width="0.7"/>
<circle cx="49.2" cy="239.87" r="1.55" fill="#c08442" stroke="#5a3410" stroke-width="0.7"/>
<line x1="47.1" y1="234.16" x2="52.7" y2="234.16" stroke="#2a2a2a" stroke-width="0.8"/>
<path d="M57.1 233.39L58.8 230.18L55.39 230.18Z" fill="#6a1c52" stroke="#3a0a2c" stroke-width="0.7"/>
<path d="M58.5 235.79L60.2 232.59L56.8 232.59Z" fill="#6a1c52" stroke="#3a0a2c" stroke-width="0.7"/>
<path d="M57.1 238.09L58.8 234.88L55.39 234.88Z" fill="#6a1c52" stroke="#3a0a2c" stroke-width="0.7"/>
<path d="M58.5 241.65L60.2 238.44L56.8 238.44Z" fill="#6a1c52" stroke="#3a0a2c" stroke-width="0.7"/>
<path d="M57.1 243.91L58.8 240.7L55.39 240.7Z" fill="#6a1c52" stroke="#3a0a2c" stroke-width="0.7"/>
<path d="M58.5 246.8L60.2 243.59L56.8 243.59Z" fill="#6a1c52" stroke="#3a0a2c" stroke-width="0.7"/>
<path d="M57.1 249.8L58.8 246.59L55.39 246.59Z" fill="#6a1c52" stroke="#3a0a2c" stroke-width="0.7"/>
<line x1="55" y1="239.56" x2="60.6" y2="239.56" stroke="#2a2a2a" stroke-width="0.8"/>
<path d="M63.5 258.74L65.2 261.95L61.8 261.95Z" fill="#66775f" stroke="#2a3328" stroke-width="0.7"/>
<path d="M64.9 259.12L66.61 262.32L63.2 262.32Z" fill="#66775f" stroke="#2a3328" stroke-width="0.7"/>
<path d="M63.5 258.36L65.2 261.57L61.8 261.57Z" fill="#66775f" stroke="#2a3328" stroke-width="0.7"/>
<line x1="61.4" y1="260.52" x2="67" y2="260.52" stroke="#2a2a2a" stroke-width="0.8"/>
<rect x="69.05" y="259.35" width="3.1" height="3.1" fill="#e4c03a" stroke="#6a5208" stroke-width="0.7"/>
<rect x="70.45" y="259.72" width="3.1" height="3.1" fill="#e4c03a" stroke="#6a5208" stroke-width="0.7"/>
<rect x="69.05" y="258.97" width="3.1" height="3.1" fill="#e4c03a" stroke="#6a5208" stroke-width="0.7"/>
<line x1="68.5" y1="260.9" x2="74.1" y2="260.9" stroke="#2a2a2a" stroke-width="0.8"/>
<circle cx="83.6" cy="215.61" r="1.55" fill="#c08442" stroke="#5a3410" stroke-width="0.7"/>
<circle cx="85" cy="219.22" r="1.55" fill="#c08442" stroke="#5a3410" stroke-width="0.7"/>
<circle cx="83.6" cy="223.91" r="1.55" fill="#c08442" stroke="#5a3410" stroke-width="0.7"/>
<circle cx="85" cy="225.6" r="1.55" fill="#c08442" stroke="#5a3410" stroke-width="0.7"/>
<circle cx="83.6" cy="228.08" r="1.55" fill="#c08442" stroke="#5a3410" stroke-width="0.7"/>
<circle cx="85" cy="229.66" r="1.55" fill="#c08442" stroke="#5a3410" stroke-width="0.7"/>
<line x1="81.5" y1="223.68" x2="87.1" y2="223.68" stroke="#2a2a2a" stroke-width="0.8"/>
<path d="M90.9 231.89L92.6 228.68L89.19 228.68Z" fill="#6a1c52" stroke="#3a0a2c" stroke-width="0.7"/>
<path d="M92.3 234.89L94 231.69L90.59 231.69Z" fill="#6a1c52" stroke="#3a0a2c" stroke-width="0.7"/>
<path d="M90.9 237.52L92.6 234.31L89.19 234.31Z" fill="#6a1c52" stroke="#3a0a2c" stroke-width="0.7"/>
<path d="M92.3 238.65L94 235.44L90.59 235.44Z" fill="#6a1c52" stroke="#3a0a2c" stroke-width="0.7"/>
<path d="M90.9 240.15L92.6 236.94L89.19 236.94Z" fill="#6a1c52" stroke="#3a0a2c" stroke-width="0.7"/>
<path d="M92.3 241.65L94 238.44L90.59 238.44Z" fill="#6a1c52" stroke="#3a0a2c" stroke-width="0.7"/>
<line x1="88.8" y1="235.68" x2="94.4" y2="235.68" stroke="#2a2a2a" stroke-width="0.8"/>
<path d="M97.9 251.23L99.6 254.44L96.19 254.44Z" fill="#66775f" stroke="#2a3328" stroke-width="0.7"/>
<path d="M99.3 253.11L101 256.32L97.59 256.32Z" fill="#66775f" stroke="#2a3328" stroke-width="0.7"/>
<path d="M97.9 254.23L99.6 257.44L96.19 257.44Z" fill="#66775f" stroke="#2a3328" stroke-width="0.7"/>
<path d="M99.3 256.11L101 259.32L97.59 259.32Z" fill="#66775f" stroke="#2a3328" stroke-width="0.7"/>
<path d="M97.9 256.86L99.6 260.07L96.19 260.07Z" fill="#66775f" stroke="#2a3328" stroke-width="0.7"/>
<line x1="95.8" y1="256.09" x2="101.4" y2="256.09" stroke="#2a2a2a" stroke-width="0.8"/>
<rect x="104.05" y="256.34" width="3.1" height="3.1" fill="#e4c03a" stroke="#6a5208" stroke-width="0.7"/>
<rect x="105.45" y="257.47" width="3.1" height="3.1" fill="#e4c03a" stroke="#6a5208" stroke-width="0.7"/>
<rect x="104.05" y="258.22" width="3.1" height="3.1" fill="#e4c03a" stroke="#6a5208" stroke-width="0.7"/>
<rect x="105.45" y="258.97" width="3.1" height="3.1" fill="#e4c03a" stroke="#6a5208" stroke-width="0.7"/>
<line x1="103.5" y1="259.3" x2="109.1" y2="259.3" stroke="#2a2a2a" stroke-width="0.8"/>
<line x1="48.1" y1="219.1" x2="71.5" y2="219.1" stroke="#6a6a6a" stroke-width="0.85"/>
<circle cx="59.8" cy="215.6" r="0.95" fill="#383838"/>
<line x1="56.9" y1="228.5" x2="64.8" y2="228.5" stroke="#333" stroke-width="0.9"/>
<circle cx="60.9" cy="225.2" r="0.95" fill="#383838"/>
<line x1="84.9" y1="213" x2="107.8" y2="213" stroke="#6a6a6a" stroke-width="0.85"/>
<circle cx="96" cy="209.6" r="0.95" fill="#383838"/>
<line x1="92.2" y1="226" x2="100" y2="226" stroke="#333" stroke-width="0.9"/>
<circle cx="96" cy="222.6" r="0.95" fill="#383838"/>
<circle cx="53.4" cy="193.7" r="1.5" fill="#c08442" stroke="#5a3410" stroke-width="0.7"/>
<text x="57.8" y="195.9" font-size="6.6" fill="#3a3a3a" stroke="#3a3a3a" stroke-width="0.24" textLength="9.4" lengthAdjust="spacingAndGlyphs">WT</text>
<path d="M90.1 195.42L91.75 192.32L88.45 192.32Z" fill="#6a1c52" stroke="#3a0a2c" stroke-width="0.7"/>
<text x="94.8" y="195.9" font-size="6.6" fill="#3a3a3a" stroke="#3a3a3a" stroke-width="0.24" textLength="15.5" lengthAdjust="spacingAndGlyphs">EPCR</text>
<text x="110.6" y="192.6" font-size="4.6" fill="#888" stroke="#888" stroke-width="0.24" textLength="5.6" lengthAdjust="spacingAndGlyphs">WT</text>
<path d="M53.4 200.08L55.05 203.18L51.75 203.18Z" fill="#555" stroke="#222" stroke-width="0.7"/>
<text x="58.5" y="204" font-size="6.6" fill="#4a4a4a" stroke="#4a4a4a" stroke-width="0.24" textLength="15.8" lengthAdjust="spacingAndGlyphs">EPCR</text>
<text x="74.6" y="200.7" font-size="4.6" fill="#888" stroke="#888" stroke-width="0.24" textLength="7" lengthAdjust="spacingAndGlyphs">C/S</text>
<rect x="88.2" y="200.4" width="2.8" height="2.8" fill="#e4c03a" stroke="#6a5208" stroke-width="0.7"/>
<text x="94.8" y="204" font-size="6.6" fill="#3a3a3a" stroke="#3a3a3a" stroke-width="0.24" textLength="7.2" lengthAdjust="spacingAndGlyphs">TF</text>
<text x="102.3" y="200.7" font-size="4.6" fill="#888" stroke="#888" stroke-width="0.24" textLength="6.6" lengthAdjust="spacingAndGlyphs">ΔCT</text>
<text x="16.4" y="251.8" font-size="7.1" fill="#3a3a3a" stroke="#3a3a3a" stroke-width="0.24" textLength="44.2" lengthAdjust="spacingAndGlyphs" transform="rotate(-90 16.4 251.8)">LBPA binding</text>
<text x="23.6" y="252.4" font-size="6.9" fill="#3a3a3a" stroke="#3a3a3a" stroke-width="0.24" textLength="44.6" lengthAdjust="spacingAndGlyphs" transform="rotate(-90 23.6 252.4)">(arbitrary unit)</text>
<line x1="45.2" y1="297.5" x2="45.2" y2="364.3" stroke="#161616" stroke-width="1.25"/>
<line x1="42.1" y1="363.7" x2="45.2" y2="363.7" stroke="#161616" stroke-width="1"/>
<text x="38.3" y="366.7" font-size="7.3" fill="#3c3c3c" stroke="#3c3c3c" stroke-width="0.24" text-anchor="end" textLength="3.4" lengthAdjust="spacingAndGlyphs">0</text>
<line x1="42.1" y1="344.9" x2="45.2" y2="344.9" stroke="#161616" stroke-width="1"/>
<text x="38.3" y="347.9" font-size="7.3" fill="#3c3c3c" stroke="#3c3c3c" stroke-width="0.24" text-anchor="end" textLength="6.8" lengthAdjust="spacingAndGlyphs">20</text>
<line x1="42.1" y1="326.1" x2="45.2" y2="326.1" stroke="#161616" stroke-width="1"/>
<text x="38.3" y="329.1" font-size="7.3" fill="#3c3c3c" stroke="#3c3c3c" stroke-width="0.24" text-anchor="end" textLength="6.8" lengthAdjust="spacingAndGlyphs">40</text>
<line x1="42.1" y1="307.3" x2="45.2" y2="307.3" stroke="#161616" stroke-width="1"/>
<text x="38.3" y="310.3" font-size="7.3" fill="#3c3c3c" stroke="#3c3c3c" stroke-width="0.24" text-anchor="end" textLength="6.8" lengthAdjust="spacingAndGlyphs">60</text>
<line x1="42.3" y1="364.2" x2="111.5" y2="364.2" stroke="#161616" stroke-width="1.25"/>
<line x1="61.2" y1="364.2" x2="61.2" y2="366.9" stroke="#161616" stroke-width="1"/>
<line x1="95.5" y1="364.2" x2="95.5" y2="366.9" stroke="#161616" stroke-width="1"/>
<circle cx="49.2" cy="345.84" r="1.55" fill="#c08442" stroke="#5a3410" stroke-width="0.7"/>
<circle cx="50.6" cy="347.72" r="1.55" fill="#c08442" stroke="#5a3410" stroke-width="0.7"/>
<circle cx="49.2" cy="349.6" r="1.55" fill="#c08442" stroke="#5a3410" stroke-width="0.7"/>
<circle cx="50.6" cy="351.48" r="1.55" fill="#c08442" stroke="#5a3410" stroke-width="0.7"/>
<circle cx="49.2" cy="352.42" r="1.55" fill="#c08442" stroke="#5a3410" stroke-width="0.7"/>
<line x1="47.1" y1="349.41" x2="52.7" y2="349.41" stroke="#2a2a2a" stroke-width="0.8"/>
<path d="M56.9 351.38L58.6 348.17L55.2 348.17Z" fill="#6a1c52" stroke="#3a0a2c" stroke-width="0.7"/>
<path d="M58.3 353.26L60.01 350.05L56.6 350.05Z" fill="#6a1c52" stroke="#3a0a2c" stroke-width="0.7"/>
<path d="M56.9 355.14L58.6 351.93L55.2 351.93Z" fill="#6a1c52" stroke="#3a0a2c" stroke-width="0.7"/>
<path d="M58.3 357.02L60.01 353.81L56.6 353.81Z" fill="#6a1c52" stroke="#3a0a2c" stroke-width="0.7"/>
<path d="M56.9 357.96L58.6 354.75L55.2 354.75Z" fill="#6a1c52" stroke="#3a0a2c" stroke-width="0.7"/>
<line x1="54.8" y1="353.17" x2="60.4" y2="353.17" stroke="#2a2a2a" stroke-width="0.8"/>
<path d="M64.2 354.4L65.91 357.61L62.5 357.61Z" fill="#66775f" stroke="#2a3328" stroke-width="0.7"/>
<path d="M65.6 356.28L67.31 359.49L63.9 359.49Z" fill="#66775f" stroke="#2a3328" stroke-width="0.7"/>
<path d="M64.2 357.22L65.91 360.43L62.5 360.43Z" fill="#66775f" stroke="#2a3328" stroke-width="0.7"/>
<path d="M65.6 358.16L67.31 361.37L63.9 361.37Z" fill="#66775f" stroke="#2a3328" stroke-width="0.7"/>
<line x1="62.1" y1="358.3" x2="67.7" y2="358.3" stroke="#2a2a2a" stroke-width="0.8"/>
<rect x="69.75" y="351.81" width="3.1" height="3.1" fill="#e4c03a" stroke="#6a5208" stroke-width="0.7"/>
<rect x="71.15" y="353.69" width="3.1" height="3.1" fill="#e4c03a" stroke="#6a5208" stroke-width="0.7"/>
<rect x="69.75" y="354.63" width="3.1" height="3.1" fill="#e4c03a" stroke="#6a5208" stroke-width="0.7"/>
<rect x="71.15" y="356.51" width="3.1" height="3.1" fill="#e4c03a" stroke="#6a5208" stroke-width="0.7"/>
<rect x="69.75" y="357.45" width="3.1" height="3.1" fill="#e4c03a" stroke="#6a5208" stroke-width="0.7"/>
<line x1="69.2" y1="356.37" x2="74.8" y2="356.37" stroke="#2a2a2a" stroke-width="0.8"/>
<circle cx="83.3" cy="314.63" r="1.55" fill="#c08442" stroke="#5a3410" stroke-width="0.7"/>
<circle cx="84.7" cy="317.55" r="1.55" fill="#c08442" stroke="#5a3410" stroke-width="0.7"/>
<circle cx="83.3" cy="321.59" r="1.55" fill="#c08442" stroke="#5a3410" stroke-width="0.7"/>
<circle cx="84.7" cy="324.5" r="1.55" fill="#c08442" stroke="#5a3410" stroke-width="0.7"/>
<circle cx="83.3" cy="327.51" r="1.55" fill="#c08442" stroke="#5a3410" stroke-width="0.7"/>
<line x1="81.2" y1="321.16" x2="86.8" y2="321.16" stroke="#2a2a2a" stroke-width="0.8"/>
<path d="M91.1 316.98L92.8 313.77L89.39 313.77Z" fill="#6a1c52" stroke="#3a0a2c" stroke-width="0.7"/>
<path d="M92.5 325.81L94.2 322.61L90.8 322.61Z" fill="#6a1c52" stroke="#3a0a2c" stroke-width="0.7"/>
<path d="M91.1 329.76L92.8 326.55L89.39 326.55Z" fill="#6a1c52" stroke="#3a0a2c" stroke-width="0.7"/>
<path d="M92.5 330.98L94.2 327.78L90.8 327.78Z" fill="#6a1c52" stroke="#3a0a2c" stroke-width="0.7"/>
<path d="M91.1 332.77L92.8 329.56L89.39 329.56Z" fill="#6a1c52" stroke="#3a0a2c" stroke-width="0.7"/>
<path d="M92.5 337.94L94.2 334.73L90.8 334.73Z" fill="#6a1c52" stroke="#3a0a2c" stroke-width="0.7"/>
<line x1="89" y1="327.26" x2="94.6" y2="327.26" stroke="#2a2a2a" stroke-width="0.8"/>
<path d="M98.8 352.52L100.5 355.73L97.09 355.73Z" fill="#66775f" stroke="#2a3328" stroke-width="0.7"/>
<path d="M100.2 354.4L101.91 357.61L98.5 357.61Z" fill="#66775f" stroke="#2a3328" stroke-width="0.7"/>
<path d="M98.8 355.34L100.5 358.55L97.09 358.55Z" fill="#66775f" stroke="#2a3328" stroke-width="0.7"/>
<path d="M100.2 356.28L101.91 359.49L98.5 359.49Z" fill="#66775f" stroke="#2a3328" stroke-width="0.7"/>
<line x1="96.7" y1="356.41" x2="102.3" y2="356.41" stroke="#2a2a2a" stroke-width="0.8"/>
<rect x="104.55" y="350.87" width="3.1" height="3.1" fill="#e4c03a" stroke="#6a5208" stroke-width="0.7"/>
<rect x="105.95" y="352.75" width="3.1" height="3.1" fill="#e4c03a" stroke="#6a5208" stroke-width="0.7"/>
<rect x="104.55" y="354.63" width="3.1" height="3.1" fill="#e4c03a" stroke="#6a5208" stroke-width="0.7"/>
<rect x="105.95" y="356.51" width="3.1" height="3.1" fill="#e4c03a" stroke="#6a5208" stroke-width="0.7"/>
<line x1="104" y1="355.24" x2="109.6" y2="355.24" stroke="#2a2a2a" stroke-width="0.8"/>
<line x1="84.2" y1="305.3" x2="107.5" y2="305.3" stroke="#6a6a6a" stroke-width="0.85"/>
<circle cx="96.1" cy="302.3" r="0.95" fill="#383838"/>
<line x1="92.4" y1="311.7" x2="100" y2="311.7" stroke="#333" stroke-width="0.9"/>
<circle cx="96.1" cy="309.1" r="0.95" fill="#383838"/>
<text x="61.1" y="375.8" font-size="7.2" fill="#3a3a3a" stroke="#3a3a3a" stroke-width="0.24" text-anchor="middle" textLength="22" lengthAdjust="spacingAndGlyphs">5 weeks</text>
<text x="95.6" y="375.8" font-size="7.2" fill="#3a3a3a" stroke="#3a3a3a" stroke-width="0.24" text-anchor="middle" textLength="25.5" lengthAdjust="spacingAndGlyphs">12 weeks</text>
<text x="15.4" y="353" font-size="7.3" fill="#3a3a3a" stroke="#3a3a3a" stroke-width="0.24" textLength="46.8" lengthAdjust="spacingAndGlyphs" transform="rotate(-90 15.4 353)">β2GPI binding</text>
<text x="23.6" y="352.4" font-size="6.9" fill="#3a3a3a" stroke="#3a3a3a" stroke-width="0.24" textLength="45.4" lengthAdjust="spacingAndGlyphs" transform="rotate(-90 23.6 352.4)">(arbitrary unit)</text>
<text x="138.3" y="252.1" font-size="9.2" fill="#333" stroke="#333" stroke-width="0.24" textLength="36.4" lengthAdjust="spacingAndGlyphs" transform="rotate(-90 138.3 252.1)">PL vesicle</text>
<text x="151" y="242.4" font-size="7.8" fill="#3a3a3a" stroke="#3a3a3a" stroke-width="0.24" textLength="17.4" lengthAdjust="spacingAndGlyphs" transform="rotate(-90 151 242.4)">Count</text>
<rect x="171.6" y="202.7" width="59.8" height="60.2" fill="none" stroke="#a0a0a0" stroke-width="0.8"/>
<path d="M170.6 213.4h1 M170.6 217.8h1 M170.6 222.2h1 M170.6 230.95h1 M170.6 235.3h1 M170.6 239.65h1 M170.6 248.57h1 M170.6 253.15h1 M170.6 257.73h1 M179.9 262.9v1 M181.5 262.9v1 M183.1 262.9v1 M189.1 262.9v1 M191.5 262.9v1 M193.9 262.9v1 M202.39 262.9v1 M205.65 262.9v1 M208.91 262.9v1 M218 262.9v1 M220.8 262.9v1 M223.6 262.9v1" stroke="#888" stroke-width="0.6" fill="none"/>
<line x1="177.5" y1="261.7" x2="177.5" y2="264.1" stroke="#555" stroke-width="0.8"/>
<line x1="185.5" y1="261.7" x2="185.5" y2="264.1" stroke="#555" stroke-width="0.8"/>
<line x1="197.5" y1="261.7" x2="197.5" y2="264.1" stroke="#555" stroke-width="0.8"/>
<line x1="213.8" y1="261.7" x2="213.8" y2="264.1" stroke="#555" stroke-width="0.8"/>
<line x1="227.8" y1="261.7" x2="227.8" y2="264.1" stroke="#555" stroke-width="0.8"/>
<line x1="170.4" y1="209" x2="172.8" y2="209" stroke="#555" stroke-width="0.8"/>
<line x1="170.4" y1="226.6" x2="172.8" y2="226.6" stroke="#555" stroke-width="0.8"/>
<line x1="170.4" y1="244" x2="172.8" y2="244" stroke="#555" stroke-width="0.8"/>
<line x1="170.4" y1="262.3" x2="172.8" y2="262.3" stroke="#555" stroke-width="0.8"/>
<path d="M172.6 262.6 L184 262.3 L184.8 255.9 L185.25 214.3 L185.6 204.3 L186 204.3 L186.35 214.3 L186.8 255.9 L187.6 262.1 L189.8 262.1 L191.8 261.4 L193.8 261.3 L195.8 260.1 L197.3 260.3 L198.8 259.5 L200.8 260.1 L202.8 260.7 L205.8 261.6 L210.8 262.3 L229.4 262.6 L229.4 262.9 L172.6 262.9 Z" fill="#7c8084" stroke="#2a2a2a" stroke-width="0.6" stroke-linejoin="round"/>
<line x1="172.1" y1="262.7" x2="230.9" y2="262.7" stroke="#333" stroke-width="0.9"/>
<rect x="186.8" y="202.7" width="44.6" height="60.2" fill="none" stroke="#7486c4" stroke-width="1"/>
<line x1="186.8" y1="241.3" x2="231.4" y2="241.3" stroke="#3a3a3a" stroke-width="0.9"/>
<text x="207.9" y="239.6" font-size="6.8" fill="#333" stroke="#333" stroke-width="0.24" text-anchor="middle" textLength="11.9" lengthAdjust="spacingAndGlyphs">33.4</text>
<text x="167" y="212" font-size="7.3" fill="#3c3c3c" stroke="#3c3c3c" stroke-width="0.24" text-anchor="end" textLength="10.2" lengthAdjust="spacingAndGlyphs">600</text>
<text x="167" y="229.6" font-size="7.3" fill="#3c3c3c" stroke="#3c3c3c" stroke-width="0.24" text-anchor="end" textLength="10.2" lengthAdjust="spacingAndGlyphs">400</text>
<text x="167" y="247" font-size="7.3" fill="#3c3c3c" stroke="#3c3c3c" stroke-width="0.24" text-anchor="end" textLength="10.2" lengthAdjust="spacingAndGlyphs">200</text>
<text x="167" y="265.3" font-size="7.3" fill="#3c3c3c" stroke="#3c3c3c" stroke-width="0.24" text-anchor="end" textLength="3.4" lengthAdjust="spacingAndGlyphs">0</text>
<text x="170.3" y="273.9" font-size="7.3" fill="#3c3c3c" stroke="#3c3c3c" stroke-width="0.24" textLength="10.4" lengthAdjust="spacingAndGlyphs">−10</text>
<text x="180.8" y="270.8" font-size="4.4" fill="#3c3c3c" stroke="#3c3c3c" stroke-width="0.24" textLength="2.2" lengthAdjust="spacingAndGlyphs">3</text>
<text x="185.6" y="273.9" font-size="7.3" fill="#3c3c3c" stroke="#3c3c3c" stroke-width="0.24" text-anchor="middle" textLength="3.4" lengthAdjust="spacingAndGlyphs">0</text>
<text x="192.1" y="273.9" font-size="7.3" fill="#3c3c3c" stroke="#3c3c3c" stroke-width="0.24" textLength="6.8" lengthAdjust="spacingAndGlyphs">10</text>
<text x="199" y="270.8" font-size="4.4" fill="#3c3c3c" stroke="#3c3c3c" stroke-width="0.24" textLength="2.2" lengthAdjust="spacingAndGlyphs">3</text>
<text x="208.4" y="273.9" font-size="7.3" fill="#3c3c3c" stroke="#3c3c3c" stroke-width="0.24" textLength="6.8" lengthAdjust="spacingAndGlyphs">10</text>
<text x="215.3" y="270.8" font-size="4.4" fill="#3c3c3c" stroke="#3c3c3c" stroke-width="0.24" textLength="2.2" lengthAdjust="spacingAndGlyphs">4</text>
<text x="222.7" y="273.9" font-size="7.3" fill="#3c3c3c" stroke="#3c3c3c" stroke-width="0.24" textLength="6.8" lengthAdjust="spacingAndGlyphs">10</text>
<text x="229.6" y="270.8" font-size="4.4" fill="#3c3c3c" stroke="#3c3c3c" stroke-width="0.24" textLength="2.2" lengthAdjust="spacingAndGlyphs">5</text>
<text x="186.9" y="285.5" font-size="8.2" fill="#3a3a3a" stroke="#3a3a3a" stroke-width="0.24" textLength="28.1" lengthAdjust="spacingAndGlyphs">PL vesicle</text>
<text x="286.3" y="197.8" font-size="9.2" fill="#333" stroke="#333" stroke-width="0.24" textLength="13" lengthAdjust="spacingAndGlyphs">WT</text>
<line x1="234.5" y1="218.6" x2="253.5" y2="218.6" stroke="#5a78b0" stroke-width="1.25"/>
<path d="M257.5 218.6 L250.3 215.5 L251.9 218.6 L250.3 221.7 Z" fill="#5a78b0"/>
<line x1="235" y1="245.1" x2="255.5" y2="245.1" stroke="#5a78b0" stroke-width="1.25"/>
<text x="242.8" y="242.2" font-size="7.8" fill="#3a3a3a" stroke="#3a3a3a" stroke-width="0.24" textLength="16.8" lengthAdjust="spacingAndGlyphs" transform="rotate(-90 242.8 242.2)">CD43</text>
<rect x="263.5" y="202.9" width="60.1" height="59.9" fill="none" stroke="#a0a0a0" stroke-width="0.8"/>
<path d="M262.5 212.65h1 M262.5 216.3h1 M262.5 219.95h1 M262.5 227.6h1 M262.5 231.6h1 M262.5 235.6h1 M262.5 242h1 M262.5 244.4h1 M262.5 246.8h1 M262.5 251.7h1 M262.5 254.2h1 M262.5 256.7h1 M270.45 262.8v1 M272.55 262.8v1 M274.65 262.8v1 M280.65 262.8v1 M282.55 262.8v1 M284.45 262.8v1 M292.1 262.8v1 M295.3 262.8v1 M298.5 262.8v1 M307.53 262.8v1 M310.35 262.8v1 M313.17 262.8v1" stroke="#888" stroke-width="0.6" fill="none"/>
<line x1="267.3" y1="261.6" x2="267.3" y2="264" stroke="#555" stroke-width="0.8"/>
<line x1="277.8" y1="261.6" x2="277.8" y2="264" stroke="#555" stroke-width="0.8"/>
<line x1="287.3" y1="261.6" x2="287.3" y2="264" stroke="#555" stroke-width="0.8"/>
<line x1="303.3" y1="261.6" x2="303.3" y2="264" stroke="#555" stroke-width="0.8"/>
<line x1="317.4" y1="261.6" x2="317.4" y2="264" stroke="#555" stroke-width="0.8"/>
<line x1="262.3" y1="209" x2="264.7" y2="209" stroke="#555" stroke-width="0.8"/>
<line x1="262.3" y1="223.6" x2="264.7" y2="223.6" stroke="#555" stroke-width="0.8"/>
<line x1="262.3" y1="239.6" x2="264.7" y2="239.6" stroke="#555" stroke-width="0.8"/>
<line x1="262.3" y1="249.2" x2="264.7" y2="249.2" stroke="#555" stroke-width="0.8"/>
<line x1="262.3" y1="259.2" x2="264.7" y2="259.2" stroke="#555" stroke-width="0.8"/>
<g fill="#8a8ab8" fill-opacity="0.35"><circle cx="302.46" cy="222.33" r="0.5"/><circle cx="309.44" cy="235.06" r="0.5"/><circle cx="306.93" cy="226.16" r="0.5"/><circle cx="305.14" cy="224.64" r="0.5"/><circle cx="307.22" cy="224.78" r="0.5"/><circle cx="308.39" cy="232.57" r="0.5"/><circle cx="306.92" cy="228.29" r="0.5"/><circle cx="307.31" cy="229.76" r="0.5"/><circle cx="305.78" cy="239.73" r="0.5"/><circle cx="304.59" cy="228.61" r="0.5"/><circle cx="306.49" cy="229.12" r="0.5"/><circle cx="306.98" cy="235.65" r="0.5"/><circle cx="303.39" cy="233.93" r="0.5"/><circle cx="309.51" cy="224.72" r="0.5"/><circle cx="304.79" cy="231.41" r="0.5"/><circle cx="302.72" cy="229.41" r="0.5"/><circle cx="310.75" cy="230.7" r="0.5"/><circle cx="309.85" cy="226.54" r="0.5"/><circle cx="309" cy="228.68" r="0.5"/><circle cx="302.48" cy="225.38" r="0.5"/><circle cx="304.97" cy="230.96" r="0.5"/><circle cx="308.02" cy="218.62" r="0.5"/><circle cx="308.74" cy="231.78" r="0.5"/><circle cx="306.46" cy="228.46" r="0.5"/><circle cx="306.06" cy="223.75" r="0.5"/><circle cx="307.54" cy="230.94" r="0.5"/><circle cx="307.51" cy="225.14" r="0.5"/><circle cx="306.98" cy="222.85" r="0.5"/><circle cx="306.73" cy="229.29" r="0.5"/><circle cx="305.74" cy="220.42" r="0.5"/><circle cx="307.1" cy="221.62" r="0.5"/><circle cx="305.76" cy="220.81" r="0.5"/><circle cx="305.2" cy="236.23" r="0.5"/><circle cx="310.52" cy="228.19" r="0.5"/><circle cx="304.36" cy="228.36" r="0.5"/><circle cx="309.32" cy="222.58" r="0.5"/><circle cx="304.18" cy="228.27" r="0.5"/><circle cx="309.27" cy="233.64" r="0.5"/><circle cx="307.99" cy="222.23" r="0.5"/><circle cx="304.26" cy="239.34" r="0.5"/><circle cx="306.8" cy="232.98" r="0.5"/><circle cx="308.82" cy="233.82" r="0.5"/><circle cx="306.71" cy="228.28" r="0.5"/><circle cx="309.39" cy="228.51" r="0.5"/><circle cx="304.42" cy="236.55" r="0.5"/><circle cx="307.41" cy="221.3" r="0.5"/><circle cx="307.82" cy="226.16" r="0.5"/><circle cx="308.34" cy="232.81" r="0.5"/><circle cx="308.4" cy="230.94" r="0.5"/><circle cx="308.4" cy="229.23" r="0.5"/><circle cx="304.1" cy="231" r="0.5"/><circle cx="307.74" cy="233.15" r="0.5"/><circle cx="307.9" cy="240.62" r="0.5"/><circle cx="303.48" cy="224.68" r="0.5"/><circle cx="306.8" cy="230.56" r="0.5"/><circle cx="307.69" cy="228.92" r="0.5"/><circle cx="306.59" cy="234.58" r="0.5"/><circle cx="307.97" cy="230.34" r="0.5"/><circle cx="310.91" cy="221.69" r="0.5"/><circle cx="305.3" cy="235.22" r="0.5"/><circle cx="310.22" cy="227.03" r="0.5"/><circle cx="308.31" cy="235.69" r="0.5"/><circle cx="306.52" cy="232.2" r="0.5"/><circle cx="305.49" cy="226.9" r="0.5"/><circle cx="305.74" cy="225.99" r="0.5"/><circle cx="306.78" cy="229.27" r="0.5"/><circle cx="307.58" cy="224.18" r="0.5"/><circle cx="309.34" cy="229.98" r="0.5"/><circle cx="308.42" cy="236.96" r="0.5"/><circle cx="307.78" cy="224.28" r="0.5"/></g>
<g fill="#8a8aa0" fill-opacity="0.35"><circle cx="312.08" cy="217.76" r="0.5"/><circle cx="303.13" cy="221.17" r="0.5"/><circle cx="301.66" cy="215.52" r="0.5"/><circle cx="303.33" cy="221.54" r="0.5"/><circle cx="303.62" cy="217.86" r="0.5"/><circle cx="311.3" cy="219.97" r="0.5"/><circle cx="300.76" cy="219.25" r="0.5"/><circle cx="298.58" cy="219.96" r="0.5"/><circle cx="309.52" cy="219.39" r="0.5"/><circle cx="304.26" cy="215.78" r="0.5"/><circle cx="301.62" cy="218.93" r="0.5"/><circle cx="299.75" cy="217.86" r="0.5"/><circle cx="296.14" cy="222.44" r="0.5"/><circle cx="305.98" cy="220.53" r="0.5"/><circle cx="303.2" cy="218.66" r="0.5"/><circle cx="303.63" cy="219.27" r="0.5"/><circle cx="310.08" cy="223.46" r="0.5"/><circle cx="304.94" cy="220.04" r="0.5"/><circle cx="311.27" cy="218.88" r="0.5"/><circle cx="296.23" cy="217.91" r="0.5"/><circle cx="304.46" cy="220.38" r="0.5"/><circle cx="306.92" cy="219.27" r="0.5"/><circle cx="298.35" cy="218.76" r="0.5"/><circle cx="299.82" cy="219.65" r="0.5"/><circle cx="298.33" cy="215.72" r="0.5"/><circle cx="299.3" cy="219.86" r="0.5"/><circle cx="299.03" cy="221.36" r="0.5"/><circle cx="302.38" cy="220.43" r="0.5"/><circle cx="303.48" cy="218.79" r="0.5"/><circle cx="304.14" cy="217.61" r="0.5"/><circle cx="302.07" cy="216.67" r="0.5"/><circle cx="303.44" cy="214.76" r="0.5"/><circle cx="307.38" cy="223.03" r="0.5"/><circle cx="297.08" cy="220.66" r="0.5"/><circle cx="303.68" cy="221.94" r="0.5"/><circle cx="301.36" cy="219.68" r="0.5"/><circle cx="298.05" cy="214.49" r="0.5"/><circle cx="309.01" cy="219.94" r="0.5"/><circle cx="306.43" cy="219.8" r="0.5"/><circle cx="307.65" cy="219.9" r="0.5"/><circle cx="305.23" cy="218.77" r="0.5"/><circle cx="303.95" cy="219.01" r="0.5"/><circle cx="305.28" cy="215.59" r="0.5"/><circle cx="303.81" cy="216.73" r="0.5"/><circle cx="305.64" cy="220.53" r="0.5"/><circle cx="300.49" cy="218.24" r="0.5"/><circle cx="301.89" cy="221.51" r="0.5"/><circle cx="301.03" cy="218.23" r="0.5"/><circle cx="306.66" cy="218.71" r="0.5"/><circle cx="308.46" cy="220.47" r="0.5"/><circle cx="309.68" cy="221.46" r="0.5"/><circle cx="306.45" cy="220.01" r="0.5"/><circle cx="296.84" cy="220.16" r="0.5"/><circle cx="304.05" cy="217.85" r="0.5"/><circle cx="309.57" cy="217.47" r="0.5"/><circle cx="300.99" cy="217.85" r="0.5"/><circle cx="305.82" cy="220.39" r="0.5"/><circle cx="309.79" cy="218.34" r="0.5"/><circle cx="305.04" cy="218.13" r="0.5"/><circle cx="305.77" cy="219.43" r="0.5"/></g>
<ellipse cx="304.6" cy="218.6" rx="3.6" ry="1.8" fill="#6a6c78" fill-opacity="0.85" filter="url(#bl)"/>
<ellipse cx="301" cy="217.6" rx="2.4" ry="1.2" fill="#8a8c98" fill-opacity="0.6" filter="url(#bl)"/>
<line x1="263.5" y1="243.4" x2="323.6" y2="243.4" stroke="#484848" stroke-width="0.85"/>
<line x1="282.6" y1="202.9" x2="282.6" y2="262.8" stroke="#484848" stroke-width="0.85"/>
<rect x="282.6" y="202.9" width="41" height="40.5" fill="none" stroke="#7486c4" stroke-width="1"/>
<text x="264.6" y="209.9" font-size="6.8" fill="#333" stroke="#333" stroke-width="0.24" textLength="3.4" lengthAdjust="spacingAndGlyphs">0</text>
<text x="322" y="209.9" font-size="6.8" fill="#333" stroke="#333" stroke-width="0.24" text-anchor="end" textLength="10.2" lengthAdjust="spacingAndGlyphs">100</text>
<text x="264.6" y="260.1" font-size="6.8" fill="#333" stroke="#333" stroke-width="0.24" textLength="3.4" lengthAdjust="spacingAndGlyphs">0</text>
<text x="322.2" y="260.1" font-size="6.8" fill="#333" stroke="#333" stroke-width="0.24" text-anchor="end" textLength="3.4" lengthAdjust="spacingAndGlyphs">0</text>
<text x="250.2" y="212" font-size="7.3" fill="#3c3c3c" stroke="#3c3c3c" stroke-width="0.24" textLength="6.8" lengthAdjust="spacingAndGlyphs">10</text>
<text x="257.1" y="208.9" font-size="4.4" fill="#3c3c3c" stroke="#3c3c3c" stroke-width="0.24" textLength="2.2" lengthAdjust="spacingAndGlyphs">5</text>
<text x="250.2" y="226.6" font-size="7.3" fill="#3c3c3c" stroke="#3c3c3c" stroke-width="0.24" textLength="6.8" lengthAdjust="spacingAndGlyphs">10</text>
<text x="257.1" y="223.5" font-size="4.4" fill="#3c3c3c" stroke="#3c3c3c" stroke-width="0.24" textLength="2.2" lengthAdjust="spacingAndGlyphs">4</text>
<text x="250.2" y="242.6" font-size="7.3" fill="#3c3c3c" stroke="#3c3c3c" stroke-width="0.24" textLength="6.8" lengthAdjust="spacingAndGlyphs">10</text>
<text x="257.1" y="239.5" font-size="4.4" fill="#3c3c3c" stroke="#3c3c3c" stroke-width="0.24" textLength="2.2" lengthAdjust="spacingAndGlyphs">3</text>
<text x="259.2" y="252.2" font-size="7.3" fill="#3c3c3c" stroke="#3c3c3c" stroke-width="0.24" text-anchor="end" textLength="3.4" lengthAdjust="spacingAndGlyphs">0</text>
<text x="246.6" y="262.2" font-size="7.3" fill="#3c3c3c" stroke="#3c3c3c" stroke-width="0.24" textLength="10.4" lengthAdjust="spacingAndGlyphs">−10</text>
<text x="257.1" y="259.1" font-size="4.4" fill="#3c3c3c" stroke="#3c3c3c" stroke-width="0.24" textLength="2.2" lengthAdjust="spacingAndGlyphs">3</text>
<ellipse cx="263.3" cy="249.2" rx="0.8" ry="1.3" fill="#111"/>
<ellipse cx="277.8" cy="263" rx="1.4" ry="0.8" fill="#111"/>
<text x="262.7" y="273.8" font-size="7.3" fill="#3c3c3c" stroke="#3c3c3c" stroke-width="0.24" textLength="10.4" lengthAdjust="spacingAndGlyphs">−10</text>
<text x="273.2" y="270.7" font-size="4.4" fill="#3c3c3c" stroke="#3c3c3c" stroke-width="0.24" textLength="2.2" lengthAdjust="spacingAndGlyphs">3</text>
<text x="278.4" y="273.8" font-size="7.3" fill="#3c3c3c" stroke="#3c3c3c" stroke-width="0.24" text-anchor="middle" textLength="3.4" lengthAdjust="spacingAndGlyphs">0</text>
<text x="284.7" y="273.8" font-size="7.3" fill="#3c3c3c" stroke="#3c3c3c" stroke-width="0.24" textLength="6.8" lengthAdjust="spacingAndGlyphs">10</text>
<text x="291.6" y="270.7" font-size="4.4" fill="#3c3c3c" stroke="#3c3c3c" stroke-width="0.24" textLength="2.2" lengthAdjust="spacingAndGlyphs">3</text>
<text x="300.3" y="273.8" font-size="7.3" fill="#3c3c3c" stroke="#3c3c3c" stroke-width="0.24" textLength="6.8" lengthAdjust="spacingAndGlyphs">10</text>
<text x="307.2" y="270.7" font-size="4.4" fill="#3c3c3c" stroke="#3c3c3c" stroke-width="0.24" textLength="2.2" lengthAdjust="spacingAndGlyphs">4</text>
<text x="313.3" y="273.8" font-size="7.3" fill="#3c3c3c" stroke="#3c3c3c" stroke-width="0.24" textLength="6.8" lengthAdjust="spacingAndGlyphs">10</text>
<text x="320.2" y="270.7" font-size="4.4" fill="#3c3c3c" stroke="#3c3c3c" stroke-width="0.24" textLength="2.2" lengthAdjust="spacingAndGlyphs">5</text>
<text x="284.7" y="285.7" font-size="8.2" fill="#3a3a3a" stroke="#3a3a3a" stroke-width="0.24" textLength="16.4" lengthAdjust="spacingAndGlyphs">CD27</text>
<line x1="326.8" y1="245.7" x2="343.8" y2="245.7" stroke="#5a78b0" stroke-width="1.25"/>
<path d="M347.8 245.7 L340.6 242.6 L342.2 245.7 L340.6 248.8 Z" fill="#5a78b0"/>
<text x="336.6" y="240.8" font-size="8.6" fill="#3a3a3a" stroke="#3a3a3a" stroke-width="0.24" textLength="13.8" lengthAdjust="spacingAndGlyphs" transform="rotate(-90 336.6 240.8)">CD5</text>
<rect x="355.8" y="203" width="60.1" height="59.8" fill="none" stroke="#a0a0a0" stroke-width="0.8"/>
<path d="M354.8 212.35h1 M354.8 216h1 M354.8 219.65h1 M354.8 227.35h1 M354.8 231.4h1 M354.8 235.45h1 M354.8 241.95h1 M354.8 244.4h1 M354.8 246.85h1 M354.8 251.9h1 M354.8 254.5h1 M354.8 257.1h1 M362.65 262.8v1 M364.75 262.8v1 M366.85 262.8v1 M372.85 262.8v1 M374.75 262.8v1 M376.65 262.8v1 M384.24 262.8v1 M387.4 262.8v1 M390.56 262.8v1 M399.56 262.8v1 M402.4 262.8v1 M405.24 262.8v1" stroke="#888" stroke-width="0.6" fill="none"/>
<line x1="359.5" y1="261.6" x2="359.5" y2="264" stroke="#555" stroke-width="0.8"/>
<line x1="370" y1="261.6" x2="370" y2="264" stroke="#555" stroke-width="0.8"/>
<line x1="379.5" y1="261.6" x2="379.5" y2="264" stroke="#555" stroke-width="0.8"/>
<line x1="395.3" y1="261.6" x2="395.3" y2="264" stroke="#555" stroke-width="0.8"/>
<line x1="409.5" y1="261.6" x2="409.5" y2="264" stroke="#555" stroke-width="0.8"/>
<line x1="354.6" y1="208.7" x2="357" y2="208.7" stroke="#555" stroke-width="0.8"/>
<line x1="354.6" y1="223.3" x2="357" y2="223.3" stroke="#555" stroke-width="0.8"/>
<line x1="354.6" y1="239.5" x2="357" y2="239.5" stroke="#555" stroke-width="0.8"/>
<line x1="354.6" y1="249.3" x2="357" y2="249.3" stroke="#555" stroke-width="0.8"/>
<line x1="354.6" y1="259.7" x2="357" y2="259.7" stroke="#555" stroke-width="0.8"/>
<g fill="#7a90c8" fill-opacity="0.35"><circle cx="390.66" cy="220.61" r="0.5"/><circle cx="388.76" cy="226.78" r="0.5"/><circle cx="390.69" cy="225.36" r="0.5"/><circle cx="390.21" cy="224.25" r="0.5"/><circle cx="382.49" cy="223.58" r="0.5"/><circle cx="392.72" cy="223.15" r="0.5"/><circle cx="382.77" cy="227.4" r="0.5"/><circle cx="393.54" cy="229.2" r="0.5"/><circle cx="395.36" cy="227.29" r="0.5"/><circle cx="391.76" cy="223.47" r="0.5"/><circle cx="393.43" cy="225.51" r="0.5"/><circle cx="395.25" cy="228.65" r="0.5"/><circle cx="386.85" cy="226.86" r="0.5"/><circle cx="393.03" cy="227.42" r="0.5"/><circle cx="392.91" cy="225.69" r="0.5"/><circle cx="388.65" cy="223.93" r="0.5"/><circle cx="394.12" cy="222.71" r="0.5"/><circle cx="392.65" cy="224.59" r="0.5"/><circle cx="384.61" cy="223.89" r="0.5"/><circle cx="388.08" cy="226.04" r="0.5"/><circle cx="392.13" cy="225.93" r="0.5"/><circle cx="388.01" cy="225.69" r="0.5"/><circle cx="387.03" cy="223.29" r="0.5"/><circle cx="388.71" cy="224.11" r="0.5"/><circle cx="387.92" cy="227" r="0.5"/><circle cx="388.25" cy="224.48" r="0.5"/><circle cx="392" cy="227.35" r="0.5"/><circle cx="391.18" cy="221.13" r="0.5"/><circle cx="389.4" cy="224.19" r="0.5"/><circle cx="388.12" cy="222.52" r="0.5"/><circle cx="389.26" cy="228.43" r="0.5"/><circle cx="394.69" cy="228.93" r="0.5"/><circle cx="392.38" cy="227.66" r="0.5"/><circle cx="385.14" cy="229.42" r="0.5"/><circle cx="385.63" cy="223.94" r="0.5"/><circle cx="385.5" cy="222.4" r="0.5"/><circle cx="387.11" cy="222.56" r="0.5"/><circle cx="396.55" cy="223.21" r="0.5"/><circle cx="389.16" cy="228.08" r="0.5"/><circle cx="389.94" cy="227.68" r="0.5"/><circle cx="383.25" cy="226.11" r="0.5"/><circle cx="386.43" cy="227.73" r="0.5"/><circle cx="388" cy="224.67" r="0.5"/><circle cx="397.68" cy="224.63" r="0.5"/><circle cx="390.81" cy="229.38" r="0.5"/><circle cx="393.69" cy="224.19" r="0.5"/><circle cx="395.43" cy="225.05" r="0.5"/><circle cx="393.45" cy="226.44" r="0.5"/><circle cx="386.98" cy="220.78" r="0.5"/><circle cx="390.76" cy="224.11" r="0.5"/><circle cx="395.45" cy="218.07" r="0.5"/><circle cx="390.86" cy="222.05" r="0.5"/><circle cx="394.46" cy="223.99" r="0.5"/><circle cx="393.4" cy="224.21" r="0.5"/><circle cx="395.05" cy="224.74" r="0.5"/><circle cx="390.27" cy="226.04" r="0.5"/><circle cx="397.05" cy="227.22" r="0.5"/><circle cx="390.02" cy="225.07" r="0.5"/><circle cx="393.34" cy="222.69" r="0.5"/><circle cx="387.59" cy="230.11" r="0.5"/><circle cx="390.96" cy="225.61" r="0.5"/><circle cx="386.75" cy="227.54" r="0.5"/><circle cx="392.96" cy="226.74" r="0.5"/><circle cx="384.86" cy="223.52" r="0.5"/><circle cx="384.89" cy="226.95" r="0.5"/><circle cx="383.6" cy="228.2" r="0.5"/><circle cx="392.87" cy="228.16" r="0.5"/><circle cx="384.77" cy="222.22" r="0.5"/><circle cx="381.9" cy="226.5" r="0.5"/><circle cx="384.03" cy="225.45" r="0.5"/><circle cx="385.38" cy="222.37" r="0.5"/><circle cx="388.18" cy="222.7" r="0.5"/><circle cx="388.65" cy="223.49" r="0.5"/><circle cx="391.93" cy="228.48" r="0.5"/><circle cx="392.27" cy="228.81" r="0.5"/><circle cx="384.42" cy="228.21" r="0.5"/><circle cx="384.48" cy="225.01" r="0.5"/><circle cx="390.63" cy="224.48" r="0.5"/><circle cx="391.03" cy="224.9" r="0.5"/><circle cx="387.8" cy="227.44" r="0.5"/><circle cx="395.26" cy="226.07" r="0.5"/><circle cx="389.74" cy="222.87" r="0.5"/><circle cx="389" cy="223.36" r="0.5"/><circle cx="391.34" cy="227.15" r="0.5"/><circle cx="393.11" cy="227.1" r="0.5"/><circle cx="389.14" cy="223.84" r="0.5"/><circle cx="389.32" cy="225.31" r="0.5"/><circle cx="389.51" cy="226.88" r="0.5"/><circle cx="388.57" cy="224.06" r="0.5"/><circle cx="390.56" cy="225.71" r="0.5"/><circle cx="382.92" cy="226.9" r="0.5"/><circle cx="390.42" cy="221.22" r="0.5"/><circle cx="393.68" cy="221.34" r="0.5"/><circle cx="388.91" cy="225.68" r="0.5"/><circle cx="390.18" cy="224.65" r="0.5"/><circle cx="392.91" cy="225.17" r="0.5"/><circle cx="393.83" cy="231.1" r="0.5"/><circle cx="384.19" cy="225.27" r="0.5"/><circle cx="394.65" cy="223.12" r="0.5"/><circle cx="392.64" cy="223.89" r="0.5"/><circle cx="383.9" cy="226.42" r="0.5"/><circle cx="389.14" cy="226.19" r="0.5"/><circle cx="392.24" cy="222.1" r="0.5"/><circle cx="385.22" cy="223.38" r="0.5"/><circle cx="389.79" cy="225.41" r="0.5"/><circle cx="391.67" cy="223.45" r="0.5"/><circle cx="388.79" cy="227.61" r="0.5"/><circle cx="385.67" cy="226.71" r="0.5"/><circle cx="391.94" cy="222.98" r="0.5"/><circle cx="394.68" cy="227.54" r="0.5"/></g>
<ellipse cx="389.6" cy="225.2" rx="3.8" ry="1.9" fill="#6078b0" fill-opacity="0.75" filter="url(#bl)"/>
<g fill="#6a8a8a" fill-opacity="0.4"><circle cx="388.69" cy="248.68" r="0.5"/><circle cx="395.08" cy="247.27" r="0.5"/><circle cx="384.49" cy="246.51" r="0.5"/><circle cx="387.25" cy="246.29" r="0.5"/><circle cx="387.2" cy="247.2" r="0.5"/><circle cx="387.2" cy="248.14" r="0.5"/><circle cx="390.27" cy="247.67" r="0.5"/><circle cx="383.98" cy="246.84" r="0.5"/><circle cx="397.35" cy="248.57" r="0.5"/><circle cx="388.47" cy="248.18" r="0.5"/><circle cx="387.12" cy="249.18" r="0.5"/><circle cx="391.68" cy="248.43" r="0.5"/><circle cx="390.58" cy="247.62" r="0.5"/><circle cx="386.74" cy="247.49" r="0.5"/><circle cx="385.47" cy="248.23" r="0.5"/><circle cx="394.11" cy="246.65" r="0.5"/><circle cx="387.99" cy="247.77" r="0.5"/><circle cx="389.13" cy="246.86" r="0.5"/><circle cx="388.35" cy="247.71" r="0.5"/><circle cx="389.55" cy="247.38" r="0.5"/><circle cx="385.78" cy="247.4" r="0.5"/><circle cx="386.51" cy="249.97" r="0.5"/><circle cx="397.26" cy="248.8" r="0.5"/><circle cx="388.1" cy="247.28" r="0.5"/><circle cx="391" cy="248.27" r="0.5"/><circle cx="390.6" cy="248.16" r="0.5"/><circle cx="392.16" cy="247.62" r="0.5"/><circle cx="390.52" cy="249.1" r="0.5"/><circle cx="386.47" cy="248.1" r="0.5"/><circle cx="397" cy="246.26" r="0.5"/><circle cx="392.56" cy="248.63" r="0.5"/><circle cx="394.54" cy="247.17" r="0.5"/><circle cx="390.15" cy="247.3" r="0.5"/><circle cx="389.93" cy="248.87" r="0.5"/><circle cx="394.86" cy="248.7" r="0.5"/><circle cx="389.12" cy="249.27" r="0.5"/><circle cx="381.04" cy="247.72" r="0.5"/><circle cx="387.88" cy="247.76" r="0.5"/><circle cx="391.51" cy="247.47" r="0.5"/><circle cx="380.46" cy="246.87" r="0.5"/><circle cx="386.44" cy="247.66" r="0.5"/><circle cx="391.65" cy="247.74" r="0.5"/><circle cx="390.64" cy="247.48" r="0.5"/><circle cx="386.89" cy="248.67" r="0.5"/><circle cx="387.28" cy="247.88" r="0.5"/><circle cx="392.47" cy="248.46" r="0.5"/><circle cx="388.86" cy="248.5" r="0.5"/><circle cx="384.1" cy="249.12" r="0.5"/><circle cx="387.34" cy="246.74" r="0.5"/><circle cx="387.3" cy="248.62" r="0.5"/><circle cx="387.8" cy="251.02" r="0.5"/><circle cx="382.05" cy="246.81" r="0.5"/><circle cx="390.75" cy="248.17" r="0.5"/><circle cx="390.56" cy="247.51" r="0.5"/><circle cx="387.67" cy="246.79" r="0.5"/><circle cx="386.78" cy="249.25" r="0.5"/><circle cx="388.73" cy="247.46" r="0.5"/><circle cx="390.15" cy="248.18" r="0.5"/><circle cx="388.91" cy="248.2" r="0.5"/><circle cx="391.57" cy="247.16" r="0.5"/></g>
<ellipse cx="388.6" cy="248" rx="4.4" ry="1.05" fill="#2c4038" fill-opacity="0.95" filter="url(#bl)"/>
<line x1="355.8" y1="239.5" x2="415.9" y2="239.5" stroke="#484848" stroke-width="0.85"/>
<line x1="378.6" y1="203" x2="378.6" y2="262.8" stroke="#484848" stroke-width="0.85"/>
<text x="357.3" y="210.6" font-size="6.8" fill="#333" stroke="#333" stroke-width="0.24" textLength="8.5" lengthAdjust="spacingAndGlyphs">0.2</text>
<text x="414.4" y="210.6" font-size="6.8" fill="#333" stroke="#333" stroke-width="0.24" text-anchor="end" textLength="11.9" lengthAdjust="spacingAndGlyphs">32.1</text>
<text x="357.3" y="261" font-size="6.8" fill="#333" stroke="#333" stroke-width="0.24" textLength="3.4" lengthAdjust="spacingAndGlyphs">0</text>
<text x="414.4" y="261" font-size="6.8" fill="#333" stroke="#333" stroke-width="0.24" text-anchor="end" textLength="11.9" lengthAdjust="spacingAndGlyphs">67.7</text>
<text x="342.5" y="211.7" font-size="7.3" fill="#3c3c3c" stroke="#3c3c3c" stroke-width="0.24" textLength="6.8" lengthAdjust="spacingAndGlyphs">10</text>
<text x="349.4" y="208.6" font-size="4.4" fill="#3c3c3c" stroke="#3c3c3c" stroke-width="0.24" textLength="2.2" lengthAdjust="spacingAndGlyphs">5</text>
<text x="342.5" y="226.3" font-size="7.3" fill="#3c3c3c" stroke="#3c3c3c" stroke-width="0.24" textLength="6.8" lengthAdjust="spacingAndGlyphs">10</text>
<text x="349.4" y="223.2" font-size="4.4" fill="#3c3c3c" stroke="#3c3c3c" stroke-width="0.24" textLength="2.2" lengthAdjust="spacingAndGlyphs">4</text>
<text x="342.5" y="242.5" font-size="7.3" fill="#3c3c3c" stroke="#3c3c3c" stroke-width="0.24" textLength="6.8" lengthAdjust="spacingAndGlyphs">10</text>
<text x="349.4" y="239.4" font-size="4.4" fill="#3c3c3c" stroke="#3c3c3c" stroke-width="0.24" textLength="2.2" lengthAdjust="spacingAndGlyphs">3</text>
<text x="351.5" y="252.3" font-size="7.3" fill="#3c3c3c" stroke="#3c3c3c" stroke-width="0.24" text-anchor="end" textLength="3.4" lengthAdjust="spacingAndGlyphs">0</text>
<text x="338.9" y="262.7" font-size="7.3" fill="#3c3c3c" stroke="#3c3c3c" stroke-width="0.24" textLength="10.4" lengthAdjust="spacingAndGlyphs">−10</text>
<text x="349.4" y="259.6" font-size="4.4" fill="#3c3c3c" stroke="#3c3c3c" stroke-width="0.24" textLength="2.2" lengthAdjust="spacingAndGlyphs">3</text>
<ellipse cx="355.6" cy="249.3" rx="0.8" ry="1.3" fill="#111"/>
<ellipse cx="370" cy="263" rx="1.4" ry="0.8" fill="#111"/>
<text x="355.2" y="273.8" font-size="7.3" fill="#3c3c3c" stroke="#3c3c3c" stroke-width="0.24" textLength="10.4" lengthAdjust="spacingAndGlyphs">−10</text>
<text x="365.7" y="270.7" font-size="4.4" fill="#3c3c3c" stroke="#3c3c3c" stroke-width="0.24" textLength="2.2" lengthAdjust="spacingAndGlyphs">3</text>
<text x="370.6" y="273.8" font-size="7.3" fill="#3c3c3c" stroke="#3c3c3c" stroke-width="0.24" text-anchor="middle" textLength="3.4" lengthAdjust="spacingAndGlyphs">0</text>
<text x="376.8" y="273.8" font-size="7.3" fill="#3c3c3c" stroke="#3c3c3c" stroke-width="0.24" textLength="6.8" lengthAdjust="spacingAndGlyphs">10</text>
<text x="383.7" y="270.7" font-size="4.4" fill="#3c3c3c" stroke="#3c3c3c" stroke-width="0.24" textLength="2.2" lengthAdjust="spacingAndGlyphs">3</text>
<text x="392.5" y="273.8" font-size="7.3" fill="#3c3c3c" stroke="#3c3c3c" stroke-width="0.24" textLength="6.8" lengthAdjust="spacingAndGlyphs">10</text>
<text x="399.4" y="270.7" font-size="4.4" fill="#3c3c3c" stroke="#3c3c3c" stroke-width="0.24" textLength="2.2" lengthAdjust="spacingAndGlyphs">4</text>
<text x="405.1" y="273.8" font-size="7.3" fill="#3c3c3c" stroke="#3c3c3c" stroke-width="0.24" textLength="6.8" lengthAdjust="spacingAndGlyphs">10</text>
<text x="412" y="270.7" font-size="4.4" fill="#3c3c3c" stroke="#3c3c3c" stroke-width="0.24" textLength="2.2" lengthAdjust="spacingAndGlyphs">5</text>
<text x="380.3" y="285.7" font-size="8.2" fill="#3a3a3a" stroke="#3a3a3a" stroke-width="0.24" textLength="16.6" lengthAdjust="spacingAndGlyphs">CD20</text>
<text x="471.1" y="197.1" font-size="8.8" fill="#222" stroke="#222" stroke-width="0.24" textLength="7.6" lengthAdjust="spacingAndGlyphs">TF</text>
<text x="478.7" y="194.2" font-size="6.4" fill="#333" stroke="#333" stroke-width="0.24" textLength="14.3" lengthAdjust="spacingAndGlyphs">ΔCT</text>
<text x="431" y="243.1" font-size="7.8" fill="#3a3a3a" stroke="#3a3a3a" stroke-width="0.24" textLength="18.6" lengthAdjust="spacingAndGlyphs" transform="rotate(-90 431 243.1)">Count</text>
<rect x="452.4" y="203.5" width="59.8" height="60.1" fill="none" stroke="#a0a0a0" stroke-width="0.8"/>
<path d="M451.4 218.95h1 M451.4 222.9h1 M451.4 226.85h1 M451.4 234.75h1 M451.4 238.7h1 M451.4 242.65h1 M451.4 250.57h1 M451.4 254.55h1 M451.4 258.52h1 M459.42 263.6v1 M461.3 263.6v1 M463.18 263.6v1 M469.33 263.6v1 M471.55 263.6v1 M473.77 263.6v1 M481.99 263.6v1 M485.25 263.6v1 M488.51 263.6v1 M497.27 263.6v1 M499.85 263.6v1 M502.43 263.6v1" stroke="#888" stroke-width="0.6" fill="none"/>
<line x1="456.6" y1="262.4" x2="456.6" y2="264.8" stroke="#555" stroke-width="0.8"/>
<line x1="466" y1="262.4" x2="466" y2="264.8" stroke="#555" stroke-width="0.8"/>
<line x1="477.1" y1="262.4" x2="477.1" y2="264.8" stroke="#555" stroke-width="0.8"/>
<line x1="493.4" y1="262.4" x2="493.4" y2="264.8" stroke="#555" stroke-width="0.8"/>
<line x1="506.3" y1="262.4" x2="506.3" y2="264.8" stroke="#555" stroke-width="0.8"/>
<line x1="451.2" y1="215" x2="453.6" y2="215" stroke="#555" stroke-width="0.8"/>
<line x1="451.2" y1="230.8" x2="453.6" y2="230.8" stroke="#555" stroke-width="0.8"/>
<line x1="451.2" y1="246.6" x2="453.6" y2="246.6" stroke="#555" stroke-width="0.8"/>
<line x1="451.2" y1="262.5" x2="453.6" y2="262.5" stroke="#555" stroke-width="0.8"/>
<path d="M453.4 263.3 L464.4 263 L465.2 256.6 L465.65 216.4 L466 206.4 L466.4 206.4 L466.75 216.4 L467.2 256.6 L468 262.8 L510.2 263.3 L510.2 263.6 L453.4 263.6 Z" fill="#7c8084" stroke="#2a2a2a" stroke-width="0.6" stroke-linejoin="round"/>
<line x1="452.9" y1="263.4" x2="511.7" y2="263.4" stroke="#333" stroke-width="0.9"/>
<line x1="466.2" y1="242" x2="512.2" y2="242" stroke="#3a3a3a" stroke-width="0.9"/>
<line x1="466.2" y1="240.6" x2="466.2" y2="243.4" stroke="#3a3a3a" stroke-width="0.8"/>
<line x1="511.9" y1="240.6" x2="511.9" y2="243.4" stroke="#3a3a3a" stroke-width="0.8"/>
<text x="488.6" y="240.3" font-size="6.8" fill="#333" stroke="#333" stroke-width="0.24" text-anchor="middle" textLength="11.9" lengthAdjust="spacingAndGlyphs">2.57</text>
<text x="447.8" y="218" font-size="7.3" fill="#3c3c3c" stroke="#3c3c3c" stroke-width="0.24" text-anchor="end" textLength="10.2" lengthAdjust="spacingAndGlyphs">600</text>
<text x="447.8" y="233.8" font-size="7.3" fill="#3c3c3c" stroke="#3c3c3c" stroke-width="0.24" text-anchor="end" textLength="10.2" lengthAdjust="spacingAndGlyphs">400</text>
<text x="447.8" y="249.6" font-size="7.3" fill="#3c3c3c" stroke="#3c3c3c" stroke-width="0.24" text-anchor="end" textLength="10.2" lengthAdjust="spacingAndGlyphs">200</text>
<text x="447.8" y="265.5" font-size="7.3" fill="#3c3c3c" stroke="#3c3c3c" stroke-width="0.24" text-anchor="end" textLength="3.4" lengthAdjust="spacingAndGlyphs">0</text>
<text x="450.1" y="273.9" font-size="7.3" fill="#3c3c3c" stroke="#3c3c3c" stroke-width="0.24" textLength="10.4" lengthAdjust="spacingAndGlyphs">−10</text>
<text x="460.6" y="270.8" font-size="4.4" fill="#3c3c3c" stroke="#3c3c3c" stroke-width="0.24" textLength="2.2" lengthAdjust="spacingAndGlyphs">3</text>
<text x="466.3" y="273.9" font-size="7.3" fill="#3c3c3c" stroke="#3c3c3c" stroke-width="0.24" text-anchor="middle" textLength="3.4" lengthAdjust="spacingAndGlyphs">0</text>
<text x="473.1" y="273.9" font-size="7.3" fill="#3c3c3c" stroke="#3c3c3c" stroke-width="0.24" textLength="6.8" lengthAdjust="spacingAndGlyphs">10</text>
<text x="480" y="270.8" font-size="4.4" fill="#3c3c3c" stroke="#3c3c3c" stroke-width="0.24" textLength="2.2" lengthAdjust="spacingAndGlyphs">3</text>
<text x="488.9" y="273.9" font-size="7.3" fill="#3c3c3c" stroke="#3c3c3c" stroke-width="0.24" textLength="6.8" lengthAdjust="spacingAndGlyphs">10</text>
<text x="495.8" y="270.8" font-size="4.4" fill="#3c3c3c" stroke="#3c3c3c" stroke-width="0.24" textLength="2.2" lengthAdjust="spacingAndGlyphs">4</text>
<text x="502.1" y="273.9" font-size="7.3" fill="#3c3c3c" stroke="#3c3c3c" stroke-width="0.24" textLength="6.8" lengthAdjust="spacingAndGlyphs">10</text>
<text x="509" y="270.8" font-size="4.4" fill="#3c3c3c" stroke="#3c3c3c" stroke-width="0.24" textLength="2.2" lengthAdjust="spacingAndGlyphs">5</text>
<text x="467.4" y="285.5" font-size="8.2" fill="#3a3a3a" stroke="#3a3a3a" stroke-width="0.24" textLength="28.1" lengthAdjust="spacingAndGlyphs">PL vesicle</text>
<text x="138.6" y="335.9" font-size="9.2" fill="#333" stroke="#333" stroke-width="0.24" textLength="24.3" lengthAdjust="spacingAndGlyphs" transform="rotate(-90 138.6 335.9)">β2GPI</text>
<text x="151" y="332.6" font-size="7.8" fill="#3a3a3a" stroke="#3a3a3a" stroke-width="0.24" textLength="17.7" lengthAdjust="spacingAndGlyphs" transform="rotate(-90 151 332.6)">Count</text>
<rect x="171.7" y="294.1" width="59.8" height="59.8" fill="none" stroke="#a0a0a0" stroke-width="0.8"/>
<path d="M170.7 310.8h1 M170.7 314.6h1 M170.7 318.4h1 M170.7 325.9h1 M170.7 329.6h1 M170.7 333.3h1 M170.7 340.77h1 M170.7 344.55h1 M170.7 348.33h1 M179.9 353.9v1 M181.5 353.9v1 M183.1 353.9v1 M189.1 353.9v1 M191.5 353.9v1 M193.9 353.9v1 M202.39 353.9v1 M205.65 353.9v1 M208.91 353.9v1 M218 353.9v1 M220.8 353.9v1 M223.6 353.9v1" stroke="#888" stroke-width="0.6" fill="none"/>
<line x1="177.5" y1="352.7" x2="177.5" y2="355.1" stroke="#555" stroke-width="0.8"/>
<line x1="185.5" y1="352.7" x2="185.5" y2="355.1" stroke="#555" stroke-width="0.8"/>
<line x1="197.5" y1="352.7" x2="197.5" y2="355.1" stroke="#555" stroke-width="0.8"/>
<line x1="213.8" y1="352.7" x2="213.8" y2="355.1" stroke="#555" stroke-width="0.8"/>
<line x1="227.8" y1="352.7" x2="227.8" y2="355.1" stroke="#555" stroke-width="0.8"/>
<line x1="170.5" y1="307" x2="172.9" y2="307" stroke="#555" stroke-width="0.8"/>
<line x1="170.5" y1="322.2" x2="172.9" y2="322.2" stroke="#555" stroke-width="0.8"/>
<line x1="170.5" y1="337" x2="172.9" y2="337" stroke="#555" stroke-width="0.8"/>
<line x1="170.5" y1="352.1" x2="172.9" y2="352.1" stroke="#555" stroke-width="0.8"/>
<path d="M172.7 353.6 L184 353.3 L184.8 346.9 L185.25 306.2 L185.6 296.2 L186 296.2 L186.35 306.2 L186.8 346.9 L187.6 353.1 L189.8 353.1 L191.8 352.4 L193.8 352.3 L195.8 351.1 L197.3 351.3 L198.8 350.5 L200.8 351.1 L202.8 351.7 L205.8 352.6 L210.8 353.3 L229.5 353.6 L229.5 353.9 L172.7 353.9 Z" fill="#7c8084" stroke="#2a2a2a" stroke-width="0.6" stroke-linejoin="round"/>
<line x1="172.2" y1="353.7" x2="231" y2="353.7" stroke="#333" stroke-width="0.9"/>
<rect x="186.8" y="294.1" width="44.7" height="59.8" fill="none" stroke="#7486c4" stroke-width="1"/>
<line x1="186.8" y1="329.3" x2="231.5" y2="329.3" stroke="#3a3a3a" stroke-width="0.9"/>
<text x="207.6" y="327.5" font-size="6.8" fill="#333" stroke="#333" stroke-width="0.24" text-anchor="middle" textLength="11.9" lengthAdjust="spacingAndGlyphs">9.25</text>
<text x="167.1" y="310" font-size="7.3" fill="#3c3c3c" stroke="#3c3c3c" stroke-width="0.24" text-anchor="end" textLength="10.2" lengthAdjust="spacingAndGlyphs">600</text>
<text x="167.1" y="325.2" font-size="7.3" fill="#3c3c3c" stroke="#3c3c3c" stroke-width="0.24" text-anchor="end" textLength="10.2" lengthAdjust="spacingAndGlyphs">400</text>
<text x="167.1" y="340" font-size="7.3" fill="#3c3c3c" stroke="#3c3c3c" stroke-width="0.24" text-anchor="end" textLength="10.2" lengthAdjust="spacingAndGlyphs">200</text>
<text x="167.1" y="355.1" font-size="7.3" fill="#3c3c3c" stroke="#3c3c3c" stroke-width="0.24" text-anchor="end" textLength="3.4" lengthAdjust="spacingAndGlyphs">0</text>
<text x="170.3" y="364.6" font-size="7.3" fill="#3c3c3c" stroke="#3c3c3c" stroke-width="0.24" textLength="10.4" lengthAdjust="spacingAndGlyphs">−10</text>
<text x="180.8" y="361.5" font-size="4.4" fill="#3c3c3c" stroke="#3c3c3c" stroke-width="0.24" textLength="2.2" lengthAdjust="spacingAndGlyphs">3</text>
<text x="185.6" y="364.6" font-size="7.3" fill="#3c3c3c" stroke="#3c3c3c" stroke-width="0.24" text-anchor="middle" textLength="3.4" lengthAdjust="spacingAndGlyphs">0</text>
<text x="192.1" y="364.6" font-size="7.3" fill="#3c3c3c" stroke="#3c3c3c" stroke-width="0.24" textLength="6.8" lengthAdjust="spacingAndGlyphs">10</text>
<text x="199" y="361.5" font-size="4.4" fill="#3c3c3c" stroke="#3c3c3c" stroke-width="0.24" textLength="2.2" lengthAdjust="spacingAndGlyphs">3</text>
<text x="208.4" y="364.6" font-size="7.3" fill="#3c3c3c" stroke="#3c3c3c" stroke-width="0.24" textLength="6.8" lengthAdjust="spacingAndGlyphs">10</text>
<text x="215.3" y="361.5" font-size="4.4" fill="#3c3c3c" stroke="#3c3c3c" stroke-width="0.24" textLength="2.2" lengthAdjust="spacingAndGlyphs">4</text>
<text x="222.7" y="364.6" font-size="7.3" fill="#3c3c3c" stroke="#3c3c3c" stroke-width="0.24" textLength="6.8" lengthAdjust="spacingAndGlyphs">10</text>
<text x="229.6" y="361.5" font-size="4.4" fill="#3c3c3c" stroke="#3c3c3c" stroke-width="0.24" textLength="2.2" lengthAdjust="spacingAndGlyphs">5</text>
<text x="192.5" y="376.2" font-size="8.2" fill="#3a3a3a" stroke="#3a3a3a" stroke-width="0.24" textLength="18.4" lengthAdjust="spacingAndGlyphs">β2GPI</text>
<line x1="234.7" y1="308.9" x2="252.3" y2="308.9" stroke="#5a78b0" stroke-width="1.25"/>
<path d="M256.3 308.9 L249.1 305.8 L250.7 308.9 L249.1 312 Z" fill="#5a78b0"/>
<line x1="234.7" y1="334.8" x2="255.8" y2="334.8" stroke="#5a78b0" stroke-width="1.25"/>
<text x="243.2" y="331.9" font-size="7.8" fill="#3a3a3a" stroke="#3a3a3a" stroke-width="0.24" textLength="16.7" lengthAdjust="spacingAndGlyphs" transform="rotate(-90 243.2 331.9)">CD43</text>
<rect x="263.7" y="293.6" width="59.7" height="59.4" fill="none" stroke="#a0a0a0" stroke-width="0.8"/>
<path d="M262.7 301.5h1 M262.7 305.5h1 M262.7 309.5h1 M262.7 317.52h1 M262.7 321.55h1 M262.7 325.58h1 M262.7 332.08h1 M262.7 334.55h1 M262.7 337.02h1 M262.7 341.95h1 M262.7 344.4h1 M262.7 346.85h1 M270.65 353v1 M272.75 353v1 M274.85 353v1 M280.85 353v1 M282.75 353v1 M284.65 353v1 M292.3 353v1 M295.5 353v1 M298.7 353v1 M307.7 353v1 M310.5 353v1 M313.3 353v1" stroke="#888" stroke-width="0.6" fill="none"/>
<line x1="267.5" y1="351.8" x2="267.5" y2="354.2" stroke="#555" stroke-width="0.8"/>
<line x1="278" y1="351.8" x2="278" y2="354.2" stroke="#555" stroke-width="0.8"/>
<line x1="287.5" y1="351.8" x2="287.5" y2="354.2" stroke="#555" stroke-width="0.8"/>
<line x1="303.5" y1="351.8" x2="303.5" y2="354.2" stroke="#555" stroke-width="0.8"/>
<line x1="317.5" y1="351.8" x2="317.5" y2="354.2" stroke="#555" stroke-width="0.8"/>
<line x1="262.5" y1="297.5" x2="264.9" y2="297.5" stroke="#555" stroke-width="0.8"/>
<line x1="262.5" y1="313.5" x2="264.9" y2="313.5" stroke="#555" stroke-width="0.8"/>
<line x1="262.5" y1="329.6" x2="264.9" y2="329.6" stroke="#555" stroke-width="0.8"/>
<line x1="262.5" y1="339.5" x2="264.9" y2="339.5" stroke="#555" stroke-width="0.8"/>
<line x1="262.5" y1="349.3" x2="264.9" y2="349.3" stroke="#555" stroke-width="0.8"/>
<g fill="#8a8aa8" fill-opacity="0.35"><circle cx="298.16" cy="321.38" r="0.5"/><circle cx="303.19" cy="320.99" r="0.5"/><circle cx="297.47" cy="321.27" r="0.5"/><circle cx="296.2" cy="316.87" r="0.5"/><circle cx="293.94" cy="314.49" r="0.5"/><circle cx="297.59" cy="321.51" r="0.5"/><circle cx="296.93" cy="316.28" r="0.5"/><circle cx="294.62" cy="318.66" r="0.5"/><circle cx="290.71" cy="326.2" r="0.5"/><circle cx="294.87" cy="319.6" r="0.5"/><circle cx="305.54" cy="314.31" r="0.5"/><circle cx="294.64" cy="315.93" r="0.5"/><circle cx="291.84" cy="316.34" r="0.5"/><circle cx="288.45" cy="316.62" r="0.5"/><circle cx="294.45" cy="320.36" r="0.5"/><circle cx="288.9" cy="318.32" r="0.5"/><circle cx="298.18" cy="322.27" r="0.5"/><circle cx="298.05" cy="319.74" r="0.5"/><circle cx="295.71" cy="311.13" r="0.5"/><circle cx="302.48" cy="321.77" r="0.5"/><circle cx="302.42" cy="314.7" r="0.5"/><circle cx="305.64" cy="325.82" r="0.5"/><circle cx="290.2" cy="315.1" r="0.5"/><circle cx="291.93" cy="319.9" r="0.5"/><circle cx="292.93" cy="314.87" r="0.5"/><circle cx="292.12" cy="322.67" r="0.5"/><circle cx="305.03" cy="318.64" r="0.5"/><circle cx="294.8" cy="318.49" r="0.5"/><circle cx="299.51" cy="320.59" r="0.5"/><circle cx="293.02" cy="319.94" r="0.5"/><circle cx="290.43" cy="315.93" r="0.5"/><circle cx="284.99" cy="319.2" r="0.5"/><circle cx="288.04" cy="318.59" r="0.5"/><circle cx="304.19" cy="319.01" r="0.5"/><circle cx="302.43" cy="317.74" r="0.5"/><circle cx="294.87" cy="321.55" r="0.5"/><circle cx="299.08" cy="321.49" r="0.5"/><circle cx="295.77" cy="318.58" r="0.5"/><circle cx="287.48" cy="316.11" r="0.5"/><circle cx="301.7" cy="315.76" r="0.5"/><circle cx="299.85" cy="317.01" r="0.5"/><circle cx="292.96" cy="321.72" r="0.5"/><circle cx="295.08" cy="316.16" r="0.5"/><circle cx="294.67" cy="318.85" r="0.5"/><circle cx="288.78" cy="316.69" r="0.5"/><circle cx="298.12" cy="322" r="0.5"/><circle cx="295.84" cy="319.33" r="0.5"/><circle cx="289.55" cy="319.92" r="0.5"/><circle cx="297.24" cy="318.52" r="0.5"/><circle cx="299.62" cy="315.31" r="0.5"/><circle cx="297.32" cy="319.85" r="0.5"/><circle cx="292.92" cy="321.81" r="0.5"/><circle cx="292.97" cy="317.39" r="0.5"/><circle cx="300.91" cy="323.85" r="0.5"/><circle cx="301.27" cy="314.9" r="0.5"/><circle cx="295.61" cy="320.42" r="0.5"/><circle cx="294.67" cy="318.14" r="0.5"/><circle cx="286.8" cy="316.9" r="0.5"/><circle cx="294.37" cy="318.71" r="0.5"/><circle cx="295.17" cy="316.52" r="0.5"/><circle cx="304.37" cy="317.98" r="0.5"/><circle cx="301.89" cy="319.63" r="0.5"/><circle cx="298.57" cy="319.53" r="0.5"/><circle cx="297.15" cy="312.83" r="0.5"/><circle cx="296.49" cy="321.07" r="0.5"/><circle cx="295.93" cy="315.69" r="0.5"/><circle cx="296.31" cy="320.49" r="0.5"/><circle cx="297.56" cy="320.23" r="0.5"/><circle cx="299.18" cy="322.17" r="0.5"/><circle cx="284.66" cy="319.62" r="0.5"/><circle cx="297.45" cy="321.39" r="0.5"/><circle cx="300.61" cy="322.39" r="0.5"/><circle cx="300.96" cy="315.06" r="0.5"/><circle cx="293.34" cy="316.99" r="0.5"/><circle cx="292.2" cy="316.61" r="0.5"/><circle cx="300.75" cy="320.47" r="0.5"/><circle cx="296.29" cy="320.26" r="0.5"/><circle cx="298.73" cy="318.83" r="0.5"/><circle cx="305.11" cy="317.13" r="0.5"/><circle cx="305.08" cy="320.45" r="0.5"/><circle cx="295.17" cy="323.59" r="0.5"/><circle cx="293.61" cy="317.99" r="0.5"/><circle cx="298.65" cy="319.68" r="0.5"/><circle cx="299.67" cy="319.86" r="0.5"/><circle cx="300.3" cy="316.55" r="0.5"/><circle cx="298.8" cy="314.92" r="0.5"/><circle cx="288.36" cy="315.98" r="0.5"/><circle cx="292.74" cy="319.56" r="0.5"/><circle cx="295.73" cy="313.46" r="0.5"/><circle cx="290.54" cy="318.65" r="0.5"/><circle cx="296.13" cy="314.86" r="0.5"/><circle cx="292.97" cy="316.71" r="0.5"/><circle cx="299.97" cy="321.93" r="0.5"/><circle cx="299.17" cy="314.83" r="0.5"/><circle cx="292.42" cy="316.3" r="0.5"/><circle cx="300.36" cy="322.05" r="0.5"/><circle cx="295.17" cy="317.41" r="0.5"/><circle cx="297.61" cy="318.4" r="0.5"/><circle cx="302.37" cy="316.22" r="0.5"/><circle cx="289.52" cy="319.7" r="0.5"/><circle cx="296.91" cy="321.84" r="0.5"/><circle cx="290.77" cy="321.07" r="0.5"/><circle cx="294.53" cy="317.93" r="0.5"/><circle cx="304.2" cy="317.83" r="0.5"/><circle cx="295.04" cy="323.62" r="0.5"/><circle cx="306.05" cy="322.46" r="0.5"/><circle cx="306.06" cy="317.54" r="0.5"/><circle cx="288.22" cy="320.93" r="0.5"/><circle cx="299.66" cy="319.44" r="0.5"/><circle cx="293.69" cy="316.23" r="0.5"/><circle cx="292.14" cy="319.86" r="0.5"/><circle cx="304.34" cy="317.08" r="0.5"/><circle cx="297.4" cy="319.27" r="0.5"/><circle cx="293.72" cy="315.5" r="0.5"/><circle cx="298.67" cy="318.19" r="0.5"/><circle cx="296.92" cy="321.98" r="0.5"/><circle cx="299.49" cy="322.01" r="0.5"/><circle cx="293.6" cy="320.62" r="0.5"/><circle cx="298.79" cy="315.07" r="0.5"/><circle cx="289.36" cy="317.73" r="0.5"/></g>
<ellipse cx="296.3" cy="318.8" rx="4.6" ry="2.2" fill="#686878" fill-opacity="0.8" filter="url(#bl)"/>
<ellipse cx="294.5" cy="318" rx="2.4" ry="1.3" fill="#5a5a6a" fill-opacity="0.6" filter="url(#bl)"/>
<g fill="#b0b0d0" fill-opacity="0.4"><circle cx="302" cy="338.65" r="0.5"/><circle cx="302.81" cy="337.56" r="0.5"/><circle cx="293.95" cy="336.2" r="0.5"/><circle cx="295.64" cy="337.64" r="0.5"/><circle cx="300" cy="337.53" r="0.5"/><circle cx="292.83" cy="336.38" r="0.5"/><circle cx="293.75" cy="336.56" r="0.5"/><circle cx="296.56" cy="337.78" r="0.5"/><circle cx="293.2" cy="336.94" r="0.5"/><circle cx="299.15" cy="336.52" r="0.5"/><circle cx="294.2" cy="339.01" r="0.5"/><circle cx="300.04" cy="338.32" r="0.5"/><circle cx="294.08" cy="338.12" r="0.5"/><circle cx="305.96" cy="338.5" r="0.5"/><circle cx="294.31" cy="336.08" r="0.5"/><circle cx="300.66" cy="338.37" r="0.5"/><circle cx="292.65" cy="336" r="0.5"/><circle cx="297" cy="337.61" r="0.5"/><circle cx="303.39" cy="336.53" r="0.5"/><circle cx="296.39" cy="338.11" r="0.5"/><circle cx="297.42" cy="337.46" r="0.5"/><circle cx="302.22" cy="337.33" r="0.5"/><circle cx="296.22" cy="337.2" r="0.5"/><circle cx="297.96" cy="338.2" r="0.5"/><circle cx="294.92" cy="340.03" r="0.5"/><circle cx="291.88" cy="338.52" r="0.5"/><circle cx="296.82" cy="338.13" r="0.5"/><circle cx="300.29" cy="336.38" r="0.5"/><circle cx="290.93" cy="336.96" r="0.5"/><circle cx="291.87" cy="337.15" r="0.5"/></g>
<line x1="263.7" y1="333.8" x2="323.4" y2="333.8" stroke="#484848" stroke-width="0.85"/>
<line x1="283.2" y1="293.6" x2="283.2" y2="353" stroke="#484848" stroke-width="0.85"/>
<rect x="283.2" y="293.6" width="40.2" height="40.2" fill="none" stroke="#7486c4" stroke-width="1"/>
<text x="264.8" y="300.4" font-size="6.8" fill="#333" stroke="#333" stroke-width="0.24" textLength="3.4" lengthAdjust="spacingAndGlyphs">0</text>
<text x="322" y="300.4" font-size="6.8" fill="#333" stroke="#333" stroke-width="0.24" text-anchor="end" textLength="11.9" lengthAdjust="spacingAndGlyphs">93.1</text>
<text x="264.8" y="350.4" font-size="6.8" fill="#333" stroke="#333" stroke-width="0.24" textLength="3.4" lengthAdjust="spacingAndGlyphs">0</text>
<text x="322" y="350.4" font-size="6.8" fill="#333" stroke="#333" stroke-width="0.24" text-anchor="end" textLength="8.5" lengthAdjust="spacingAndGlyphs">6.9</text>
<text x="250.4" y="300.5" font-size="7.3" fill="#3c3c3c" stroke="#3c3c3c" stroke-width="0.24" textLength="6.8" lengthAdjust="spacingAndGlyphs">10</text>
<text x="257.3" y="297.4" font-size="4.4" fill="#3c3c3c" stroke="#3c3c3c" stroke-width="0.24" textLength="2.2" lengthAdjust="spacingAndGlyphs">5</text>
<text x="250.4" y="316.5" font-size="7.3" fill="#3c3c3c" stroke="#3c3c3c" stroke-width="0.24" textLength="6.8" lengthAdjust="spacingAndGlyphs">10</text>
<text x="257.3" y="313.4" font-size="4.4" fill="#3c3c3c" stroke="#3c3c3c" stroke-width="0.24" textLength="2.2" lengthAdjust="spacingAndGlyphs">4</text>
<text x="250.4" y="332.6" font-size="7.3" fill="#3c3c3c" stroke="#3c3c3c" stroke-width="0.24" textLength="6.8" lengthAdjust="spacingAndGlyphs">10</text>
<text x="257.3" y="329.5" font-size="4.4" fill="#3c3c3c" stroke="#3c3c3c" stroke-width="0.24" textLength="2.2" lengthAdjust="spacingAndGlyphs">3</text>
<text x="259.4" y="342.5" font-size="7.3" fill="#3c3c3c" stroke="#3c3c3c" stroke-width="0.24" text-anchor="end" textLength="3.4" lengthAdjust="spacingAndGlyphs">0</text>
<text x="246.8" y="352.3" font-size="7.3" fill="#3c3c3c" stroke="#3c3c3c" stroke-width="0.24" textLength="10.4" lengthAdjust="spacingAndGlyphs">−10</text>
<text x="257.3" y="349.2" font-size="4.4" fill="#3c3c3c" stroke="#3c3c3c" stroke-width="0.24" textLength="2.2" lengthAdjust="spacingAndGlyphs">3</text>
<ellipse cx="263.5" cy="339.5" rx="0.8" ry="1.3" fill="#111"/>
<ellipse cx="278" cy="353.2" rx="1.4" ry="0.8" fill="#111"/>
<text x="262.9" y="364.6" font-size="7.3" fill="#3c3c3c" stroke="#3c3c3c" stroke-width="0.24" textLength="10.4" lengthAdjust="spacingAndGlyphs">−10</text>
<text x="273.4" y="361.5" font-size="4.4" fill="#3c3c3c" stroke="#3c3c3c" stroke-width="0.24" textLength="2.2" lengthAdjust="spacingAndGlyphs">3</text>
<text x="278.6" y="364.6" font-size="7.3" fill="#3c3c3c" stroke="#3c3c3c" stroke-width="0.24" text-anchor="middle" textLength="3.4" lengthAdjust="spacingAndGlyphs">0</text>
<text x="284.9" y="364.6" font-size="7.3" fill="#3c3c3c" stroke="#3c3c3c" stroke-width="0.24" textLength="6.8" lengthAdjust="spacingAndGlyphs">10</text>
<text x="291.8" y="361.5" font-size="4.4" fill="#3c3c3c" stroke="#3c3c3c" stroke-width="0.24" textLength="2.2" lengthAdjust="spacingAndGlyphs">3</text>
<text x="300.5" y="364.6" font-size="7.3" fill="#3c3c3c" stroke="#3c3c3c" stroke-width="0.24" textLength="6.8" lengthAdjust="spacingAndGlyphs">10</text>
<text x="307.4" y="361.5" font-size="4.4" fill="#3c3c3c" stroke="#3c3c3c" stroke-width="0.24" textLength="2.2" lengthAdjust="spacingAndGlyphs">4</text>
<text x="313.5" y="364.6" font-size="7.3" fill="#3c3c3c" stroke="#3c3c3c" stroke-width="0.24" textLength="6.8" lengthAdjust="spacingAndGlyphs">10</text>
<text x="320.4" y="361.5" font-size="4.4" fill="#3c3c3c" stroke="#3c3c3c" stroke-width="0.24" textLength="2.2" lengthAdjust="spacingAndGlyphs">5</text>
<text x="285" y="376.2" font-size="8.2" fill="#3a3a3a" stroke="#3a3a3a" stroke-width="0.24" textLength="16.4" lengthAdjust="spacingAndGlyphs">CD27</text>
<line x1="325" y1="335.1" x2="343.9" y2="335.1" stroke="#5a78b0" stroke-width="1.25"/>
<path d="M347.9 335.1 L340.7 332 L342.3 335.1 L340.7 338.2 Z" fill="#5a78b0"/>
<text x="336.7" y="331" font-size="8.6" fill="#3a3a3a" stroke="#3a3a3a" stroke-width="0.24" textLength="13.6" lengthAdjust="spacingAndGlyphs" transform="rotate(-90 336.7 331)">CD5</text>
<rect x="355.6" y="293.6" width="60.3" height="59.4" fill="none" stroke="#a0a0a0" stroke-width="0.8"/>
<path d="M354.6 303h1 M354.6 306.7h1 M354.6 310.4h1 M354.6 318h1 M354.6 321.9h1 M354.6 325.8h1 M354.6 332.15h1 M354.6 334.6h1 M354.6 337.05h1 M354.6 341.98h1 M354.6 344.45h1 M354.6 346.92h1 M362.65 353v1 M364.75 353v1 M366.85 353v1 M372.85 353v1 M374.75 353v1 M376.65 353v1 M384.24 353v1 M387.4 353v1 M390.56 353v1 M399.56 353v1 M402.4 353v1 M405.24 353v1" stroke="#888" stroke-width="0.6" fill="none"/>
<line x1="359.5" y1="351.8" x2="359.5" y2="354.2" stroke="#555" stroke-width="0.8"/>
<line x1="370" y1="351.8" x2="370" y2="354.2" stroke="#555" stroke-width="0.8"/>
<line x1="379.5" y1="351.8" x2="379.5" y2="354.2" stroke="#555" stroke-width="0.8"/>
<line x1="395.3" y1="351.8" x2="395.3" y2="354.2" stroke="#555" stroke-width="0.8"/>
<line x1="409.5" y1="351.8" x2="409.5" y2="354.2" stroke="#555" stroke-width="0.8"/>
<line x1="354.4" y1="299.3" x2="356.8" y2="299.3" stroke="#555" stroke-width="0.8"/>
<line x1="354.4" y1="314.1" x2="356.8" y2="314.1" stroke="#555" stroke-width="0.8"/>
<line x1="354.4" y1="329.7" x2="356.8" y2="329.7" stroke="#555" stroke-width="0.8"/>
<line x1="354.4" y1="339.5" x2="356.8" y2="339.5" stroke="#555" stroke-width="0.8"/>
<line x1="354.4" y1="349.4" x2="356.8" y2="349.4" stroke="#555" stroke-width="0.8"/>
<g fill="#8a8ab8" fill-opacity="0.45"><circle cx="369.66" cy="340.27" r="0.5"/><circle cx="378.76" cy="338.86" r="0.5"/><circle cx="371.06" cy="338.45" r="0.5"/><circle cx="375.05" cy="339.16" r="0.5"/><circle cx="372.71" cy="338.45" r="0.5"/><circle cx="372.32" cy="338.2" r="0.5"/><circle cx="374.6" cy="338.69" r="0.5"/><circle cx="374.42" cy="339.22" r="0.5"/><circle cx="374.48" cy="339.68" r="0.5"/><circle cx="376.8" cy="339.38" r="0.5"/><circle cx="367.34" cy="340.7" r="0.5"/><circle cx="372.69" cy="339.95" r="0.5"/><circle cx="377.95" cy="338.78" r="0.5"/><circle cx="368.98" cy="339.5" r="0.5"/><circle cx="379.07" cy="339.21" r="0.5"/><circle cx="376.32" cy="339.18" r="0.5"/><circle cx="370.82" cy="339.39" r="0.5"/><circle cx="377.71" cy="338.53" r="0.5"/><circle cx="376.91" cy="338.59" r="0.5"/><circle cx="372.03" cy="339.2" r="0.5"/><circle cx="376.78" cy="339.07" r="0.5"/><circle cx="377.2" cy="340.32" r="0.5"/><circle cx="374.09" cy="339.2" r="0.5"/><circle cx="375.49" cy="338.58" r="0.5"/><circle cx="374.58" cy="339.36" r="0.5"/><circle cx="375.39" cy="339.66" r="0.5"/><circle cx="373.9" cy="340.46" r="0.5"/><circle cx="380.08" cy="337.65" r="0.5"/><circle cx="368.85" cy="339.71" r="0.5"/><circle cx="374.94" cy="340.57" r="0.5"/><circle cx="371.75" cy="341.24" r="0.5"/><circle cx="375.77" cy="338.93" r="0.5"/><circle cx="379.06" cy="338.46" r="0.5"/><circle cx="364.95" cy="338.52" r="0.5"/><circle cx="371.35" cy="339.1" r="0.5"/><circle cx="376.36" cy="340.46" r="0.5"/><circle cx="378.62" cy="339.59" r="0.5"/><circle cx="369.03" cy="338.28" r="0.5"/><circle cx="366.65" cy="338.32" r="0.5"/><circle cx="372.87" cy="339.44" r="0.5"/><circle cx="371.03" cy="339.16" r="0.5"/><circle cx="369.7" cy="339.24" r="0.5"/><circle cx="374.65" cy="337.78" r="0.5"/><circle cx="372.76" cy="338.07" r="0.5"/><circle cx="370.88" cy="339.4" r="0.5"/></g>
<ellipse cx="374.5" cy="339.3" rx="3.2" ry="0.6" fill="#a0a0c8" fill-opacity="0.5" filter="url(#bl)"/>
<ellipse cx="386.3" cy="339" rx="4.8" ry="1.7" fill="#4a4a68" fill-opacity="0.85" filter="url(#bl)"/>
<g fill="#50507a" fill-opacity="0.45"><circle cx="392.69" cy="339.07" r="0.5"/><circle cx="382.78" cy="339.72" r="0.5"/><circle cx="387.61" cy="337.41" r="0.5"/><circle cx="392.49" cy="337.34" r="0.5"/><circle cx="379.48" cy="339.35" r="0.5"/><circle cx="385.07" cy="338.58" r="0.5"/><circle cx="383.69" cy="339.87" r="0.5"/><circle cx="390.48" cy="338.95" r="0.5"/><circle cx="385.05" cy="337.09" r="0.5"/><circle cx="389.3" cy="340.79" r="0.5"/><circle cx="388" cy="340.15" r="0.5"/><circle cx="381.63" cy="339.04" r="0.5"/><circle cx="382.69" cy="339.21" r="0.5"/><circle cx="383.08" cy="338.81" r="0.5"/><circle cx="383.56" cy="338.72" r="0.5"/><circle cx="384.29" cy="337.07" r="0.5"/><circle cx="386.39" cy="339.01" r="0.5"/><circle cx="381.43" cy="339.68" r="0.5"/><circle cx="384.55" cy="340.5" r="0.5"/><circle cx="387.57" cy="339.62" r="0.5"/><circle cx="389.1" cy="339.4" r="0.5"/><circle cx="386.95" cy="339.99" r="0.5"/><circle cx="384.1" cy="340.3" r="0.5"/><circle cx="385.55" cy="339.07" r="0.5"/><circle cx="383.32" cy="338.76" r="0.5"/><circle cx="389.59" cy="338.84" r="0.5"/><circle cx="381.26" cy="338.99" r="0.5"/><circle cx="383.87" cy="338.84" r="0.5"/><circle cx="386.36" cy="339.14" r="0.5"/><circle cx="386.39" cy="337.99" r="0.5"/><circle cx="389.15" cy="337.09" r="0.5"/><circle cx="388.98" cy="338.66" r="0.5"/><circle cx="389.02" cy="339.63" r="0.5"/><circle cx="380.41" cy="338.8" r="0.5"/><circle cx="382.94" cy="339.37" r="0.5"/><circle cx="385.88" cy="339.27" r="0.5"/><circle cx="383.34" cy="339.53" r="0.5"/><circle cx="386.93" cy="338.77" r="0.5"/><circle cx="383.75" cy="339.15" r="0.5"/><circle cx="388.96" cy="339.19" r="0.5"/><circle cx="385.8" cy="338.28" r="0.5"/><circle cx="384.88" cy="337.6" r="0.5"/><circle cx="385.65" cy="339.76" r="0.5"/><circle cx="383.33" cy="339.25" r="0.5"/><circle cx="387.3" cy="337.63" r="0.5"/><circle cx="384.79" cy="340.62" r="0.5"/><circle cx="388.62" cy="337.69" r="0.5"/><circle cx="387.05" cy="338.35" r="0.5"/><circle cx="381.4" cy="338.56" r="0.5"/><circle cx="392.81" cy="341.92" r="0.5"/><circle cx="382.66" cy="338.73" r="0.5"/><circle cx="387.12" cy="338.23" r="0.5"/><circle cx="392.06" cy="335.92" r="0.5"/><circle cx="384.84" cy="341.89" r="0.5"/><circle cx="383.43" cy="340.26" r="0.5"/><circle cx="393.34" cy="338.67" r="0.5"/><circle cx="385.56" cy="338.53" r="0.5"/><circle cx="388.12" cy="339.02" r="0.5"/><circle cx="388.16" cy="341.28" r="0.5"/><circle cx="386.12" cy="338.43" r="0.5"/><circle cx="385.24" cy="337.9" r="0.5"/><circle cx="385.39" cy="339.92" r="0.5"/><circle cx="388.51" cy="337.17" r="0.5"/><circle cx="379.77" cy="339.05" r="0.5"/><circle cx="384.26" cy="338.2" r="0.5"/><circle cx="396.37" cy="336.8" r="0.5"/><circle cx="390.91" cy="338.26" r="0.5"/><circle cx="383.1" cy="338.27" r="0.5"/><circle cx="392.38" cy="339.08" r="0.5"/><circle cx="386.95" cy="338.19" r="0.5"/></g>
<line x1="355.6" y1="330" x2="415.9" y2="330" stroke="#484848" stroke-width="0.85"/>
<line x1="378.8" y1="293.6" x2="378.8" y2="353" stroke="#484848" stroke-width="0.85"/>
<text x="357.3" y="299.6" font-size="6.8" fill="#333" stroke="#333" stroke-width="0.24" textLength="3.4" lengthAdjust="spacingAndGlyphs">0</text>
<text x="357.3" y="350.6" font-size="6.8" fill="#333" stroke="#333" stroke-width="0.24" textLength="8.5" lengthAdjust="spacingAndGlyphs">6.0</text>
<text x="414.4" y="350.6" font-size="6.8" fill="#333" stroke="#333" stroke-width="0.24" text-anchor="end" textLength="11.9" lengthAdjust="spacingAndGlyphs">94.0</text>
<text x="342.3" y="302.3" font-size="7.3" fill="#3c3c3c" stroke="#3c3c3c" stroke-width="0.24" textLength="6.8" lengthAdjust="spacingAndGlyphs">10</text>
<text x="349.2" y="299.2" font-size="4.4" fill="#3c3c3c" stroke="#3c3c3c" stroke-width="0.24" textLength="2.2" lengthAdjust="spacingAndGlyphs">5</text>
<text x="342.3" y="317.1" font-size="7.3" fill="#3c3c3c" stroke="#3c3c3c" stroke-width="0.24" textLength="6.8" lengthAdjust="spacingAndGlyphs">10</text>
<text x="349.2" y="314" font-size="4.4" fill="#3c3c3c" stroke="#3c3c3c" stroke-width="0.24" textLength="2.2" lengthAdjust="spacingAndGlyphs">4</text>
<text x="342.3" y="332.7" font-size="7.3" fill="#3c3c3c" stroke="#3c3c3c" stroke-width="0.24" textLength="6.8" lengthAdjust="spacingAndGlyphs">10</text>
<text x="349.2" y="329.6" font-size="4.4" fill="#3c3c3c" stroke="#3c3c3c" stroke-width="0.24" textLength="2.2" lengthAdjust="spacingAndGlyphs">3</text>
<text x="351.3" y="342.5" font-size="7.3" fill="#3c3c3c" stroke="#3c3c3c" stroke-width="0.24" text-anchor="end" textLength="3.4" lengthAdjust="spacingAndGlyphs">0</text>
<text x="338.7" y="352.4" font-size="7.3" fill="#3c3c3c" stroke="#3c3c3c" stroke-width="0.24" textLength="10.4" lengthAdjust="spacingAndGlyphs">−10</text>
<text x="349.2" y="349.3" font-size="4.4" fill="#3c3c3c" stroke="#3c3c3c" stroke-width="0.24" textLength="2.2" lengthAdjust="spacingAndGlyphs">3</text>
<ellipse cx="355.4" cy="339.5" rx="0.8" ry="1.3" fill="#111"/>
<ellipse cx="370" cy="353.2" rx="1.4" ry="0.8" fill="#111"/>
<text x="355.2" y="364.6" font-size="7.3" fill="#3c3c3c" stroke="#3c3c3c" stroke-width="0.24" textLength="10.4" lengthAdjust="spacingAndGlyphs">−10</text>
<text x="365.7" y="361.5" font-size="4.4" fill="#3c3c3c" stroke="#3c3c3c" stroke-width="0.24" textLength="2.2" lengthAdjust="spacingAndGlyphs">3</text>
<text x="370.6" y="364.6" font-size="7.3" fill="#3c3c3c" stroke="#3c3c3c" stroke-width="0.24" text-anchor="middle" textLength="3.4" lengthAdjust="spacingAndGlyphs">0</text>
<text x="376.8" y="364.6" font-size="7.3" fill="#3c3c3c" stroke="#3c3c3c" stroke-width="0.24" textLength="6.8" lengthAdjust="spacingAndGlyphs">10</text>
<text x="383.7" y="361.5" font-size="4.4" fill="#3c3c3c" stroke="#3c3c3c" stroke-width="0.24" textLength="2.2" lengthAdjust="spacingAndGlyphs">3</text>
<text x="392.5" y="364.6" font-size="7.3" fill="#3c3c3c" stroke="#3c3c3c" stroke-width="0.24" textLength="6.8" lengthAdjust="spacingAndGlyphs">10</text>
<text x="399.4" y="361.5" font-size="4.4" fill="#3c3c3c" stroke="#3c3c3c" stroke-width="0.24" textLength="2.2" lengthAdjust="spacingAndGlyphs">4</text>
<text x="405.1" y="364.6" font-size="7.3" fill="#3c3c3c" stroke="#3c3c3c" stroke-width="0.24" textLength="6.8" lengthAdjust="spacingAndGlyphs">10</text>
<text x="412" y="361.5" font-size="4.4" fill="#3c3c3c" stroke="#3c3c3c" stroke-width="0.24" textLength="2.2" lengthAdjust="spacingAndGlyphs">5</text>
<text x="380.3" y="376.2" font-size="8.2" fill="#3a3a3a" stroke="#3a3a3a" stroke-width="0.24" textLength="16.6" lengthAdjust="spacingAndGlyphs">CD20</text>
<text x="431.2" y="332.7" font-size="7.8" fill="#3a3a3a" stroke="#3a3a3a" stroke-width="0.24" textLength="18.2" lengthAdjust="spacingAndGlyphs" transform="rotate(-90 431.2 332.7)">Count</text>
<rect x="452.4" y="293.6" width="60.3" height="59.4" fill="none" stroke="#a0a0a0" stroke-width="0.8"/>
<path d="M451.4 298.95h1 M451.4 302.4h1 M451.4 305.85h1 M451.4 312.88h1 M451.4 316.45h1 M451.4 320.03h1 M451.4 327.2h1 M451.4 330.8h1 M451.4 334.4h1 M451.4 341.48h1 M451.4 344.95h1 M451.4 348.42h1 M459.66 353v1 M461.7 353v1 M463.74 353v1 M469.89 353v1 M471.95 353v1 M474.01 353v1 M481.99 353v1 M485.25 353v1 M488.51 353v1 M497.27 353v1 M499.85 353v1 M502.43 353v1" stroke="#888" stroke-width="0.6" fill="none"/>
<line x1="456.6" y1="351.8" x2="456.6" y2="354.2" stroke="#555" stroke-width="0.8"/>
<line x1="466.8" y1="351.8" x2="466.8" y2="354.2" stroke="#555" stroke-width="0.8"/>
<line x1="477.1" y1="351.8" x2="477.1" y2="354.2" stroke="#555" stroke-width="0.8"/>
<line x1="493.4" y1="351.8" x2="493.4" y2="354.2" stroke="#555" stroke-width="0.8"/>
<line x1="506.3" y1="351.8" x2="506.3" y2="354.2" stroke="#555" stroke-width="0.8"/>
<line x1="451.2" y1="295.5" x2="453.6" y2="295.5" stroke="#555" stroke-width="0.8"/>
<line x1="451.2" y1="309.3" x2="453.6" y2="309.3" stroke="#555" stroke-width="0.8"/>
<line x1="451.2" y1="323.6" x2="453.6" y2="323.6" stroke="#555" stroke-width="0.8"/>
<line x1="451.2" y1="338" x2="453.6" y2="338" stroke="#555" stroke-width="0.8"/>
<line x1="451.2" y1="351.9" x2="453.6" y2="351.9" stroke="#555" stroke-width="0.8"/>
<path d="M453.4 352.7 L465 352.4 L465.8 346 L466.25 306.8 L466.6 296.8 L467 296.8 L467.35 306.8 L467.8 346 L468.6 352.2 L510.7 352.7 L510.7 353 L453.4 353 Z" fill="#7c8084" stroke="#2a2a2a" stroke-width="0.6" stroke-linejoin="round"/>
<line x1="452.9" y1="352.8" x2="512.2" y2="352.8" stroke="#333" stroke-width="0.9"/>
<line x1="466.8" y1="329.2" x2="512.7" y2="329.2" stroke="#3a3a3a" stroke-width="0.9"/>
<line x1="466.8" y1="327.8" x2="466.8" y2="330.6" stroke="#3a3a3a" stroke-width="0.8"/>
<line x1="512.4" y1="327.8" x2="512.4" y2="330.6" stroke="#3a3a3a" stroke-width="0.8"/>
<text x="489.6" y="326.6" font-size="6.8" fill="#333" stroke="#333" stroke-width="0.24" text-anchor="middle" textLength="8.5" lengthAdjust="spacingAndGlyphs">0.6</text>
<text x="447.8" y="298.5" font-size="7.3" fill="#3c3c3c" stroke="#3c3c3c" stroke-width="0.24" text-anchor="end" textLength="10.2" lengthAdjust="spacingAndGlyphs">800</text>
<text x="447.8" y="312.3" font-size="7.3" fill="#3c3c3c" stroke="#3c3c3c" stroke-width="0.24" text-anchor="end" textLength="10.2" lengthAdjust="spacingAndGlyphs">600</text>
<text x="447.8" y="326.6" font-size="7.3" fill="#3c3c3c" stroke="#3c3c3c" stroke-width="0.24" text-anchor="end" textLength="10.2" lengthAdjust="spacingAndGlyphs">400</text>
<text x="447.8" y="341" font-size="7.3" fill="#3c3c3c" stroke="#3c3c3c" stroke-width="0.24" text-anchor="end" textLength="10.2" lengthAdjust="spacingAndGlyphs">200</text>
<text x="447.8" y="354.9" font-size="7.3" fill="#3c3c3c" stroke="#3c3c3c" stroke-width="0.24" text-anchor="end" textLength="3.4" lengthAdjust="spacingAndGlyphs">0</text>
<text x="450.1" y="364.6" font-size="7.3" fill="#3c3c3c" stroke="#3c3c3c" stroke-width="0.24" textLength="10.4" lengthAdjust="spacingAndGlyphs">−10</text>
<text x="460.6" y="361.5" font-size="4.4" fill="#3c3c3c" stroke="#3c3c3c" stroke-width="0.24" textLength="2.2" lengthAdjust="spacingAndGlyphs">3</text>
<text x="466.8" y="364.6" font-size="7.3" fill="#3c3c3c" stroke="#3c3c3c" stroke-width="0.24" text-anchor="middle" textLength="3.4" lengthAdjust="spacingAndGlyphs">0</text>
<text x="473.1" y="364.6" font-size="7.3" fill="#3c3c3c" stroke="#3c3c3c" stroke-width="0.24" textLength="6.8" lengthAdjust="spacingAndGlyphs">10</text>
<text x="480" y="361.5" font-size="4.4" fill="#3c3c3c" stroke="#3c3c3c" stroke-width="0.24" textLength="2.2" lengthAdjust="spacingAndGlyphs">3</text>
<text x="488.9" y="364.6" font-size="7.3" fill="#3c3c3c" stroke="#3c3c3c" stroke-width="0.24" textLength="6.8" lengthAdjust="spacingAndGlyphs">10</text>
<text x="495.8" y="361.5" font-size="4.4" fill="#3c3c3c" stroke="#3c3c3c" stroke-width="0.24" textLength="2.2" lengthAdjust="spacingAndGlyphs">4</text>
<text x="502.1" y="364.6" font-size="7.3" fill="#3c3c3c" stroke="#3c3c3c" stroke-width="0.24" textLength="6.8" lengthAdjust="spacingAndGlyphs">10</text>
<text x="509" y="361.5" font-size="4.4" fill="#3c3c3c" stroke="#3c3c3c" stroke-width="0.24" textLength="2.2" lengthAdjust="spacingAndGlyphs">5</text>
<text x="473.2" y="375.6" font-size="8.2" fill="#3a3a3a" stroke="#3a3a3a" stroke-width="0.24" textLength="18.4" lengthAdjust="spacingAndGlyphs">β2GPI</text>
<rect x="0" y="0" width="520" height="1.1" fill="#555"/>
<rect x="0" y="0" width="1.2" height="385" fill="#555"/>
<rect x="518.9" y="0" width="1.1" height="385" fill="#444"/>
<rect x="0" y="383.6" width="520" height="1.4" fill="#444"/>
</svg></body></html>
